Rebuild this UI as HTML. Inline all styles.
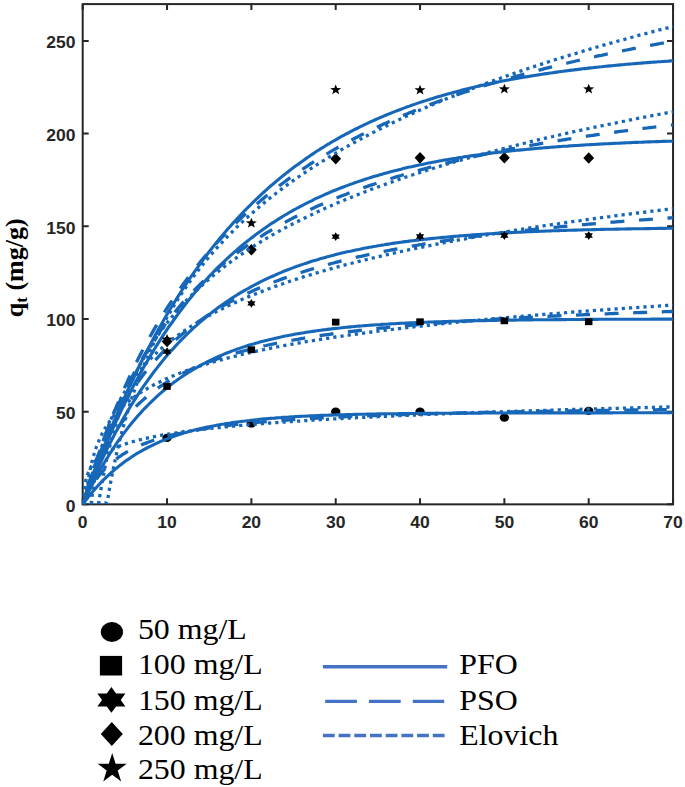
<!DOCTYPE html><html><head><meta charset="utf-8"><style>html,body{margin:0;padding:0;background:#fff;overflow:hidden}svg{display:block}.ts{font-family:"Liberation Sans",sans-serif;font-weight:bold}.tb{font-family:"Liberation Serif",serif;font-weight:bold}.tr{font-family:"Liberation Serif",serif}</style></head><body><svg width="685" height="787" viewBox="0 0 685 787">
<rect width="685" height="787" fill="#fff"/>
<defs><clipPath id="cp"><rect x="82.7" y="4.1" width="592.1499999999999" height="500.25"/></clipPath></defs>
<rect x="82.7" y="4.1" width="590.35" height="500.25" fill="none" stroke="#262626" stroke-width="2"/>
<path d="M82.7,504.35 h6 M673.05,504.35 h-6" stroke="#262626" stroke-width="2"/>
<path d="M82.7,411.66 h6 M673.05,411.66 h-6" stroke="#262626" stroke-width="2"/>
<path d="M82.7,318.97 h6 M673.05,318.97 h-6" stroke="#262626" stroke-width="2"/>
<path d="M82.7,226.28 h6 M673.05,226.28 h-6" stroke="#262626" stroke-width="2"/>
<path d="M82.7,133.59 h6 M673.05,133.59 h-6" stroke="#262626" stroke-width="2"/>
<path d="M82.7,40.90 h6 M673.05,40.90 h-6" stroke="#262626" stroke-width="2"/>
<path d="M82.70,504.35 v-6 M82.70,4.1 v6" stroke="#262626" stroke-width="2"/>
<path d="M167.04,504.35 v-6 M167.04,4.1 v6" stroke="#262626" stroke-width="2"/>
<path d="M251.37,504.35 v-6 M251.37,4.1 v6" stroke="#262626" stroke-width="2"/>
<path d="M335.71,504.35 v-6 M335.71,4.1 v6" stroke="#262626" stroke-width="2"/>
<path d="M420.04,504.35 v-6 M420.04,4.1 v6" stroke="#262626" stroke-width="2"/>
<path d="M504.38,504.35 v-6 M504.38,4.1 v6" stroke="#262626" stroke-width="2"/>
<path d="M588.71,504.35 v-6 M588.71,4.1 v6" stroke="#262626" stroke-width="2"/>
<path d="M673.05,504.35 v-6 M673.05,4.1 v6" stroke="#262626" stroke-width="2"/>
<g clip-path="url(#cp)">
<ellipse cx="167.04" cy="437.80" rx="4.7" ry="4.1" fill="#000"/>
<ellipse cx="251.37" cy="423.52" rx="4.7" ry="4.1" fill="#000"/>
<ellipse cx="335.71" cy="411.66" rx="4.7" ry="4.1" fill="#000"/>
<ellipse cx="420.04" cy="411.66" rx="4.7" ry="4.1" fill="#000"/>
<ellipse cx="504.38" cy="417.59" rx="4.7" ry="4.1" fill="#000"/>
<ellipse cx="588.71" cy="410.92" rx="4.7" ry="4.1" fill="#000"/>
<path d="M82.7,504.4 L83.5,503.2 L84.4,502.1 L85.2,501.0 L86.1,499.9 L86.9,498.8 L87.8,497.7 L88.6,496.6 L89.4,495.6 L90.3,494.6 L91.1,493.5 L92.0,492.5 L92.8,491.5 L93.7,490.5 L94.5,489.6 L95.4,488.6 L96.2,487.7 L97.0,486.7 L97.9,485.8 L98.7,484.9 L99.6,484.0 L100.4,483.1 L101.3,482.2 L102.1,481.4 L102.9,480.5 L103.8,479.7 L104.6,478.8 L105.5,478.0 L106.3,477.2 L107.2,476.4 L108.0,475.6 L108.8,474.8 L109.7,474.0 L110.5,473.3 L111.4,472.5 L112.2,471.8 L113.1,471.0 L113.9,470.3 L114.7,469.6 L115.6,468.9 L116.4,468.2 L117.3,467.5 L118.1,466.8 L119.0,466.1 L119.8,465.5 L120.7,464.8 L121.5,464.2 L122.3,463.5 L123.2,462.9 L124.0,462.3 L124.9,461.6 L127.0,460.1 L129.1,458.7 L131.2,457.2 L133.3,455.9 L135.4,454.5 L137.5,453.2 L139.6,452.0 L141.7,450.8 L143.8,449.6 L146.0,448.5 L148.1,447.4 L150.2,446.3 L152.3,445.3 L154.4,444.3 L156.5,443.3 L158.6,442.3 L160.7,441.4 L162.8,440.5 L164.9,439.7 L167.0,438.9 L169.1,438.0 L171.3,437.3 L173.4,436.5 L175.5,435.8 L177.6,435.1 L179.7,434.4 L181.8,433.7 L183.9,433.1 L186.0,432.4 L188.1,431.8 L190.2,431.2 L192.3,430.7 L194.4,430.1 L196.6,429.6 L198.7,429.1 L200.8,428.6 L202.9,428.1 L205.0,427.6 L207.1,427.1 L209.2,426.7 L211.3,426.3 L213.4,425.9 L215.5,425.5 L217.6,425.1 L219.7,424.7 L221.9,424.3 L224.0,424.0 L226.1,423.6 L228.2,423.3 L230.3,423.0 L232.4,422.6 L234.5,422.3 L236.6,422.0 L238.7,421.8 L240.8,421.5 L242.9,421.2 L245.0,421.0 L247.2,420.7 L249.3,420.5 L251.4,420.2 L253.5,420.0 L255.6,419.8 L257.7,419.6 L259.8,419.3 L261.9,419.1 L264.0,418.9 L266.1,418.8 L268.2,418.6 L270.3,418.4 L272.5,418.2 L274.6,418.1 L276.7,417.9 L278.8,417.7 L280.9,417.6 L283.0,417.4 L285.1,417.3 L287.2,417.2 L289.3,417.0 L291.4,416.9 L293.5,416.8 L295.6,416.6 L297.8,416.5 L299.9,416.4 L302.0,416.3 L304.1,416.2 L306.2,416.1 L308.3,416.0 L310.4,415.9 L312.5,415.8 L314.6,415.7 L316.7,415.6 L318.8,415.5 L320.9,415.4 L323.1,415.4 L325.2,415.3 L327.3,415.2 L329.4,415.1 L331.5,415.1 L333.6,415.0 L335.7,414.9 L337.8,414.9 L339.9,414.8 L342.0,414.7 L344.1,414.7 L346.2,414.6 L348.4,414.6 L350.5,414.5 L352.6,414.5 L354.7,414.4 L356.8,414.4 L358.9,414.3 L361.0,414.3 L363.1,414.2 L365.2,414.2 L367.3,414.1 L369.4,414.1 L371.5,414.1 L373.7,414.0 L375.8,414.0 L377.9,413.9 L380.0,413.9 L382.1,413.9 L384.2,413.8 L386.3,413.8 L388.4,413.8 L390.5,413.7 L392.6,413.7 L394.7,413.7 L396.9,413.7 L399.0,413.6 L401.1,413.6 L403.2,413.6 L405.3,413.6 L407.4,413.5 L409.5,413.5 L411.6,413.5 L413.7,413.5 L415.8,413.5 L417.9,413.4 L420.0,413.4 L422.2,413.4 L424.3,413.4 L426.4,413.4 L428.5,413.3 L430.6,413.3 L432.7,413.3 L434.8,413.3 L436.9,413.3 L439.0,413.3 L441.1,413.3 L443.2,413.2 L445.3,413.2 L447.5,413.2 L449.6,413.2 L451.7,413.2 L453.8,413.2 L455.9,413.2 L458.0,413.2 L460.1,413.1 L462.2,413.1 L464.3,413.1 L466.4,413.1 L468.5,413.1 L470.6,413.1 L472.8,413.1 L474.9,413.1 L477.0,413.1 L479.1,413.1 L481.2,413.1 L483.3,413.0 L485.4,413.0 L487.5,413.0 L489.6,413.0 L491.7,413.0 L493.8,413.0 L495.9,413.0 L498.1,413.0 L500.2,413.0 L502.3,413.0 L504.4,413.0 L506.5,413.0 L508.6,413.0 L510.7,413.0 L512.8,413.0 L514.9,413.0 L517.0,413.0 L519.1,413.0 L521.2,412.9 L523.4,412.9 L525.5,412.9 L527.6,412.9 L529.7,412.9 L531.8,412.9 L533.9,412.9 L536.0,412.9 L538.1,412.9 L540.2,412.9 L542.3,412.9 L544.4,412.9 L546.5,412.9 L548.7,412.9 L550.8,412.9 L552.9,412.9 L555.0,412.9 L557.1,412.9 L559.2,412.9 L561.3,412.9 L563.4,412.9 L565.5,412.9 L567.6,412.9 L569.7,412.9 L571.8,412.9 L574.0,412.9 L576.1,412.9 L578.2,412.9 L580.3,412.9 L582.4,412.9 L584.5,412.9 L586.6,412.9 L588.7,412.9 L590.8,412.9 L592.9,412.9 L595.0,412.9 L597.1,412.9 L599.3,412.9 L601.4,412.9 L603.5,412.9 L605.6,412.9 L607.7,412.9 L609.8,412.9 L611.9,412.9 L614.0,412.8 L616.1,412.8 L618.2,412.8 L620.3,412.8 L622.4,412.8 L624.6,412.8 L626.7,412.8 L628.8,412.8 L630.9,412.8 L633.0,412.8 L635.1,412.8 L637.2,412.8 L639.3,412.8 L641.4,412.8 L643.5,412.8 L645.6,412.8 L647.7,412.8 L649.9,412.8 L652.0,412.8 L654.1,412.8 L656.2,412.8 L658.3,412.8 L660.4,412.8 L662.5,412.8 L664.6,412.8 L666.7,412.8 L668.8,412.8 L670.9,412.8 L673.0,412.8" fill="none" stroke="#1767b9" stroke-width="3.1"/>
<path d="M82.7,504.4 L83.5,502.3 L84.4,500.4 L85.2,498.5 L86.1,496.7 L86.9,495.0 L87.8,493.3 L88.6,491.7 L89.4,490.1 L90.3,488.6 L91.1,487.2 L92.0,485.8 L92.8,484.4 L93.7,483.1 L94.5,481.8 L95.4,480.6 L96.2,479.4 L97.0,478.3 L97.9,477.1 L98.7,476.0 L99.6,475.0 L100.4,474.0 L101.3,473.0 L102.1,472.0 L102.9,471.0 L103.8,470.1 L104.6,469.2 L105.5,468.4 L106.3,467.5 L107.2,466.7 L108.0,465.9 L108.8,465.1 L109.7,464.3 L110.5,463.6 L111.4,462.8 L112.2,462.1 L113.1,461.4 L113.9,460.8 L114.7,460.1 L115.6,459.4 L116.4,458.8 L117.3,458.2 L118.1,457.6 L119.0,457.0 L119.8,456.4 L120.7,455.8 L121.5,455.3 L122.3,454.7 L123.2,454.2 L124.0,453.7 L124.9,453.2 L127.0,451.9 L129.1,450.8 L131.2,449.6 L133.3,448.6 L135.4,447.5 L137.5,446.6 L139.6,445.6 L141.7,444.7 L143.8,443.9 L146.0,443.1 L148.1,442.3 L150.2,441.5 L152.3,440.8 L154.4,440.1 L156.5,439.4 L158.6,438.7 L160.7,438.1 L162.8,437.5 L164.9,436.9 L167.0,436.3 L169.1,435.8 L171.3,435.2 L173.4,434.7 L175.5,434.2 L177.6,433.7 L179.7,433.3 L181.8,432.8 L183.9,432.4 L186.0,431.9 L188.1,431.5 L190.2,431.1 L192.3,430.7 L194.4,430.3 L196.6,430.0 L198.7,429.6 L200.8,429.3 L202.9,428.9 L205.0,428.6 L207.1,428.3 L209.2,427.9 L211.3,427.6 L213.4,427.3 L215.5,427.0 L217.6,426.7 L219.7,426.5 L221.9,426.2 L224.0,425.9 L226.1,425.7 L228.2,425.4 L230.3,425.1 L232.4,424.9 L234.5,424.7 L236.6,424.4 L238.7,424.2 L240.8,424.0 L242.9,423.8 L245.0,423.5 L247.2,423.3 L249.3,423.1 L251.4,422.9 L253.5,422.7 L255.6,422.5 L257.7,422.3 L259.8,422.1 L261.9,422.0 L264.0,421.8 L266.1,421.6 L268.2,421.4 L270.3,421.3 L272.5,421.1 L274.6,420.9 L276.7,420.8 L278.8,420.6 L280.9,420.5 L283.0,420.3 L285.1,420.2 L287.2,420.0 L289.3,419.9 L291.4,419.7 L293.5,419.6 L295.6,419.4 L297.8,419.3 L299.9,419.2 L302.0,419.0 L304.1,418.9 L306.2,418.8 L308.3,418.7 L310.4,418.5 L312.5,418.4 L314.6,418.3 L316.7,418.2 L318.8,418.1 L320.9,417.9 L323.1,417.8 L325.2,417.7 L327.3,417.6 L329.4,417.5 L331.5,417.4 L333.6,417.3 L335.7,417.2 L337.8,417.1 L339.9,417.0 L342.0,416.9 L344.1,416.8 L346.2,416.7 L348.4,416.6 L350.5,416.5 L352.6,416.4 L354.7,416.3 L356.8,416.2 L358.9,416.2 L361.0,416.1 L363.1,416.0 L365.2,415.9 L367.3,415.8 L369.4,415.7 L371.5,415.6 L373.7,415.6 L375.8,415.5 L377.9,415.4 L380.0,415.3 L382.1,415.3 L384.2,415.2 L386.3,415.1 L388.4,415.0 L390.5,415.0 L392.6,414.9 L394.7,414.8 L396.9,414.7 L399.0,414.7 L401.1,414.6 L403.2,414.5 L405.3,414.5 L407.4,414.4 L409.5,414.3 L411.6,414.3 L413.7,414.2 L415.8,414.1 L417.9,414.1 L420.0,414.0 L422.2,414.0 L424.3,413.9 L426.4,413.8 L428.5,413.8 L430.6,413.7 L432.7,413.7 L434.8,413.6 L436.9,413.5 L439.0,413.5 L441.1,413.4 L443.2,413.4 L445.3,413.3 L447.5,413.3 L449.6,413.2 L451.7,413.2 L453.8,413.1 L455.9,413.1 L458.0,413.0 L460.1,413.0 L462.2,412.9 L464.3,412.9 L466.4,412.8 L468.5,412.8 L470.6,412.7 L472.8,412.7 L474.9,412.6 L477.0,412.6 L479.1,412.5 L481.2,412.5 L483.3,412.4 L485.4,412.4 L487.5,412.3 L489.6,412.3 L491.7,412.3 L493.8,412.2 L495.9,412.2 L498.1,412.1 L500.2,412.1 L502.3,412.0 L504.4,412.0 L506.5,412.0 L508.6,411.9 L510.7,411.9 L512.8,411.8 L514.9,411.8 L517.0,411.8 L519.1,411.7 L521.2,411.7 L523.4,411.6 L525.5,411.6 L527.6,411.6 L529.7,411.5 L531.8,411.5 L533.9,411.5 L536.0,411.4 L538.1,411.4 L540.2,411.3 L542.3,411.3 L544.4,411.3 L546.5,411.2 L548.7,411.2 L550.8,411.2 L552.9,411.1 L555.0,411.1 L557.1,411.1 L559.2,411.0 L561.3,411.0 L563.4,411.0 L565.5,410.9 L567.6,410.9 L569.7,410.9 L571.8,410.8 L574.0,410.8 L576.1,410.8 L578.2,410.8 L580.3,410.7 L582.4,410.7 L584.5,410.7 L586.6,410.6 L588.7,410.6 L590.8,410.6 L592.9,410.5 L595.0,410.5 L597.1,410.5 L599.3,410.5 L601.4,410.4 L603.5,410.4 L605.6,410.4 L607.7,410.3 L609.8,410.3 L611.9,410.3 L614.0,410.3 L616.1,410.2 L618.2,410.2 L620.3,410.2 L622.4,410.2 L624.6,410.1 L626.7,410.1 L628.8,410.1 L630.9,410.1 L633.0,410.0 L635.1,410.0 L637.2,410.0 L639.3,410.0 L641.4,409.9 L643.5,409.9 L645.6,409.9 L647.7,409.9 L649.9,409.8 L652.0,409.8 L654.1,409.8 L656.2,409.8 L658.3,409.7 L660.4,409.7 L662.5,409.7 L664.6,409.7 L666.7,409.6 L668.8,409.6 L670.9,409.6 L673.0,409.6" fill="none" stroke="#1767b9" stroke-width="3.3" stroke-dasharray="14 14.6" stroke-dashoffset="0.00"/>
<path d="M82.7,502.9 L82.7,502.9 L82.7,502.9 L82.7,502.9 L82.7,502.9 L82.7,502.9 L82.7,502.9 L82.7,502.9 L82.7,502.9 L82.7,502.9 L82.7,502.9 L82.7,502.9 L82.7,502.9 L82.7,502.9 L82.7,502.9 L82.7,502.9 L82.7,502.9 L82.7,502.9 L82.7,502.9 L82.7,502.9 L82.7,502.9 L82.7,502.9 L82.7,502.9 L82.7,502.9 L82.7,502.9 L82.7,502.9 L82.7,502.9 L82.7,502.9 L82.7,502.9 L82.7,502.9 L82.7,502.9 L82.7,502.9 L82.7,502.9 L82.7,502.9 L82.7,502.9 L82.7,502.9 L82.7,502.9 L82.7,502.9 L82.7,502.9 L82.7,502.9 L82.7,502.9 L82.7,502.9 L82.7,502.9 L82.7,502.9 L82.7,502.9 L82.7,502.9 L82.7,502.9 L82.7,502.9 L82.7,502.9 L82.7,502.9 L82.7,502.9 L82.7,502.9 L82.7,502.9 L82.7,502.9 L82.7,502.9 L82.7,502.9 L82.7,502.9 L82.7,502.9 L82.7,502.9 L82.7,502.9 L82.7,502.9 L82.7,502.9 L82.7,502.9 L82.8,502.9 L82.8,502.9 L82.8,502.9 L82.8,502.9 L82.8,502.9 L82.8,502.9 L82.8,502.9 L82.8,502.9 L82.8,502.9 L82.8,502.9 L82.8,502.9 L82.8,502.9 L82.8,502.9 L82.8,502.9 L82.8,502.9 L82.8,502.9 L82.8,502.9 L82.8,502.9 L82.8,502.9 L82.8,502.9 L82.8,502.9 L82.8,502.9 L82.8,502.9 L82.8,502.9 L82.8,502.9 L82.8,502.9 L82.8,502.9 L82.8,502.9 L82.8,502.9 L82.8,502.9 L82.8,502.9 L82.8,502.9 L82.8,502.9 L82.8,502.9 L82.8,502.9 L82.8,502.9 L82.8,502.9 L82.8,502.9 L82.8,502.9 L82.9,502.9 L82.9,502.9 L82.9,502.9 L82.9,502.9 L82.9,502.9 L82.9,502.9 L82.9,502.9 L82.9,502.9 L82.9,502.9 L82.9,502.9 L82.9,502.9 L82.9,502.9 L82.9,502.9 L82.9,502.9 L82.9,502.9 L82.9,502.9 L82.9,502.9 L83.0,502.9 L83.0,502.9 L83.0,502.9 L83.0,502.9 L83.0,502.9 L83.0,502.9 L83.0,502.9 L83.0,502.9 L83.0,502.9 L83.0,502.9 L83.0,502.9 L83.0,502.9 L83.1,502.9 L83.1,502.9 L83.1,502.9 L83.1,502.9 L83.1,502.9 L83.1,502.9 L83.1,502.9 L83.1,502.9 L83.1,502.9 L83.2,502.9 L83.2,502.9 L83.2,502.9 L83.2,502.9 L83.2,502.9 L83.2,502.9 L83.2,502.9 L83.3,502.9 L83.3,502.9 L83.3,502.9 L83.3,502.9 L83.3,502.9 L83.3,502.9 L83.4,502.6 L83.4,502.2 L83.4,501.8 L83.4,501.4 L83.4,501.0 L83.5,500.6 L83.5,500.2 L83.5,499.8 L83.5,499.4 L83.6,499.0 L83.6,498.6 L83.6,498.2 L83.6,497.8 L83.7,497.4 L83.7,497.0 L83.7,496.6 L83.7,496.2 L83.8,495.8 L83.8,495.4 L83.8,495.0 L83.9,494.6 L83.9,494.2 L83.9,493.8 L84.0,493.4 L84.0,493.0 L84.0,492.6 L84.1,492.2 L84.1,491.8 L84.2,491.4 L84.2,491.0 L84.2,490.6 L84.3,490.2 L84.3,489.8 L84.4,489.4 L84.4,489.0 L84.5,488.6 L84.5,488.2 L84.6,487.8 L84.6,487.4 L84.7,487.0 L84.8,486.6 L84.8,486.2 L84.9,485.8 L84.9,485.4 L85.0,485.0 L85.1,484.6 L85.1,484.2 L85.2,483.8 L85.3,483.4 L85.4,483.0 L85.4,482.6 L85.5,482.2 L85.6,481.8 L85.7,481.4 L85.8,481.0 L85.9,480.6 L85.9,480.2 L86.0,479.8 L86.1,479.4 L86.2,479.0 L86.3,478.6 L86.4,478.2 L86.6,477.8 L86.7,477.4 L86.8,477.0 L86.9,476.6 L87.0,476.2 L87.1,475.8 L87.3,475.4 L87.4,475.0 L87.5,474.6 L87.7,474.2 L87.8,473.8 L88.0,473.4 L88.1,473.0 L88.3,472.5 L88.4,472.1 L88.6,471.7 L88.8,471.3 L89.0,470.9 L89.1,470.5 L89.3,470.1 L89.5,469.7 L89.7,469.3 L89.9,468.9 L90.1,468.5 L90.3,468.1 L90.6,467.7 L90.8,467.3 L91.0,466.9 L91.3,466.5 L91.5,466.1 L91.8,465.7 L92.0,465.3 L92.3,464.9 L92.6,464.5 L92.8,464.1 L93.1,463.7 L93.4,463.3 L93.8,462.9 L94.1,462.5 L94.4,462.1 L94.7,461.7 L95.1,461.3 L95.4,460.9 L95.8,460.5 L96.2,460.1 L96.6,459.7 L97.0,459.3 L97.4,458.9 L97.8,458.5 L98.3,458.1 L98.7,457.7 L99.2,457.3 L99.6,456.9 L100.1,456.5 L100.6,456.1 L101.2,455.7 L101.7,455.3 L102.2,454.9 L102.8,454.5 L103.4,454.1 L104.0,453.7 L104.6,453.3 L105.2,452.9 L105.9,452.5 L106.6,452.1 L107.2,451.7 L108.0,451.3 L108.7,450.9 L109.4,450.5 L110.2,450.1 L111.0,449.7 L111.8,449.3 L112.7,448.9 L113.5,448.5 L114.4,448.1 L115.3,447.7 L116.3,447.3 L117.2,446.9 L118.2,446.5 L119.3,446.1 L120.3,445.7 L121.4,445.3 L122.5,444.9 L123.7,444.5 L124.9,444.1 L127.0,443.4 L129.1,442.7 L131.2,442.1 L133.3,441.5 L135.4,440.9 L137.5,440.4 L139.6,439.8 L141.7,439.3 L143.8,438.8 L146.0,438.4 L148.1,437.9 L150.2,437.4 L152.3,437.0 L154.4,436.6 L156.5,436.2 L158.6,435.8 L160.7,435.4 L162.8,435.0 L164.9,434.7 L167.0,434.3 L169.1,434.0 L171.3,433.6 L173.4,433.3 L175.5,433.0 L177.6,432.6 L179.7,432.3 L181.8,432.0 L183.9,431.7 L186.0,431.4 L188.1,431.2 L190.2,430.9 L192.3,430.6 L194.4,430.3 L196.6,430.1 L198.7,429.8 L200.8,429.6 L202.9,429.3 L205.0,429.1 L207.1,428.8 L209.2,428.6 L211.3,428.4 L213.4,428.1 L215.5,427.9 L217.6,427.7 L219.7,427.5 L221.9,427.2 L224.0,427.0 L226.1,426.8 L228.2,426.6 L230.3,426.4 L232.4,426.2 L234.5,426.0 L236.6,425.8 L238.7,425.6 L240.8,425.4 L242.9,425.3 L245.0,425.1 L247.2,424.9 L249.3,424.7 L251.4,424.5 L253.5,424.4 L255.6,424.2 L257.7,424.0 L259.8,423.9 L261.9,423.7 L264.0,423.5 L266.1,423.4 L268.2,423.2 L270.3,423.0 L272.5,422.9 L274.6,422.7 L276.7,422.6 L278.8,422.4 L280.9,422.3 L283.0,422.1 L285.1,422.0 L287.2,421.8 L289.3,421.7 L291.4,421.5 L293.5,421.4 L295.6,421.3 L297.8,421.1 L299.9,421.0 L302.0,420.8 L304.1,420.7 L306.2,420.6 L308.3,420.4 L310.4,420.3 L312.5,420.2 L314.6,420.1 L316.7,419.9 L318.8,419.8 L320.9,419.7 L323.1,419.6 L325.2,419.4 L327.3,419.3 L329.4,419.2 L331.5,419.1 L333.6,418.9 L335.7,418.8 L337.8,418.7 L339.9,418.6 L342.0,418.5 L344.1,418.4 L346.2,418.3 L348.4,418.1 L350.5,418.0 L352.6,417.9 L354.7,417.8 L356.8,417.7 L358.9,417.6 L361.0,417.5 L363.1,417.4 L365.2,417.3 L367.3,417.2 L369.4,417.1 L371.5,417.0 L373.7,416.9 L375.8,416.8 L377.9,416.7 L380.0,416.6 L382.1,416.5 L384.2,416.4 L386.3,416.3 L388.4,416.2 L390.5,416.1 L392.6,416.0 L394.7,415.9 L396.9,415.8 L399.0,415.7 L401.1,415.6 L403.2,415.5 L405.3,415.4 L407.4,415.3 L409.5,415.2 L411.6,415.1 L413.7,415.0 L415.8,415.0 L417.9,414.9 L420.0,414.8 L422.2,414.7 L424.3,414.6 L426.4,414.5 L428.5,414.4 L430.6,414.3 L432.7,414.3 L434.8,414.2 L436.9,414.1 L439.0,414.0 L441.1,413.9 L443.2,413.8 L445.3,413.8 L447.5,413.7 L449.6,413.6 L451.7,413.5 L453.8,413.4 L455.9,413.4 L458.0,413.3 L460.1,413.2 L462.2,413.1 L464.3,413.0 L466.4,413.0 L468.5,412.9 L470.6,412.8 L472.8,412.7 L474.9,412.7 L477.0,412.6 L479.1,412.5 L481.2,412.4 L483.3,412.4 L485.4,412.3 L487.5,412.2 L489.6,412.1 L491.7,412.1 L493.8,412.0 L495.9,411.9 L498.1,411.8 L500.2,411.8 L502.3,411.7 L504.4,411.6 L506.5,411.6 L508.6,411.5 L510.7,411.4 L512.8,411.4 L514.9,411.3 L517.0,411.2 L519.1,411.2 L521.2,411.1 L523.4,411.0 L525.5,410.9 L527.6,410.9 L529.7,410.8 L531.8,410.7 L533.9,410.7 L536.0,410.6 L538.1,410.6 L540.2,410.5 L542.3,410.4 L544.4,410.4 L546.5,410.3 L548.7,410.2 L550.8,410.2 L552.9,410.1 L555.0,410.0 L557.1,410.0 L559.2,409.9 L561.3,409.9 L563.4,409.8 L565.5,409.7 L567.6,409.7 L569.7,409.6 L571.8,409.5 L574.0,409.5 L576.1,409.4 L578.2,409.4 L580.3,409.3 L582.4,409.2 L584.5,409.2 L586.6,409.1 L588.7,409.1 L590.8,409.0 L592.9,409.0 L595.0,408.9 L597.1,408.8 L599.3,408.8 L601.4,408.7 L603.5,408.7 L605.6,408.6 L607.7,408.5 L609.8,408.5 L611.9,408.4 L614.0,408.4 L616.1,408.3 L618.2,408.3 L620.3,408.2 L622.4,408.2 L624.6,408.1 L626.7,408.0 L628.8,408.0 L630.9,407.9 L633.0,407.9 L635.1,407.8 L637.2,407.8 L639.3,407.7 L641.4,407.7 L643.5,407.6 L645.6,407.6 L647.7,407.5 L649.9,407.5 L652.0,407.4 L654.1,407.4 L656.2,407.3 L658.3,407.3 L660.4,407.2 L662.5,407.2 L664.6,407.1 L666.7,407.0 L668.8,407.0 L670.9,406.9 L673.0,406.9" fill="none" stroke="#1767b9" stroke-width="3.3" stroke-dasharray="3.2 4.05"/>
<path d="M82.7,504.4 L83.5,502.5 L84.4,500.7 L85.2,498.9 L86.1,497.1 L86.9,495.4 L87.8,493.6 L88.6,491.9 L89.4,490.2 L90.3,488.5 L91.1,486.9 L92.0,485.2 L92.8,483.6 L93.7,481.9 L94.5,480.3 L95.4,478.7 L96.2,477.2 L97.0,475.6 L97.9,474.1 L98.7,472.5 L99.6,471.0 L100.4,469.5 L101.3,468.0 L102.1,466.6 L102.9,465.1 L103.8,463.7 L104.6,462.2 L105.5,460.8 L106.3,459.4 L107.2,458.0 L108.0,456.7 L108.8,455.3 L109.7,454.0 L110.5,452.6 L111.4,451.3 L112.2,450.0 L113.1,448.7 L113.9,447.4 L114.7,446.2 L115.6,444.9 L116.4,443.7 L117.3,442.4 L118.1,441.2 L119.0,440.0 L119.8,438.8 L120.7,437.6 L121.5,436.5 L122.3,435.3 L123.2,434.2 L124.0,433.0 L124.9,431.9 L127.0,429.1 L129.1,426.4 L131.2,423.8 L133.3,421.3 L135.4,418.7 L137.5,416.3 L139.6,413.9 L141.7,411.6 L143.8,409.3 L146.0,407.1 L148.1,405.0 L150.2,402.9 L152.3,400.8 L154.4,398.8 L156.5,396.8 L158.6,394.9 L160.7,393.1 L162.8,391.3 L164.9,389.5 L167.0,387.8 L169.1,386.1 L171.3,384.4 L173.4,382.8 L175.5,381.3 L177.6,379.7 L179.7,378.3 L181.8,376.8 L183.9,375.4 L186.0,374.0 L188.1,372.7 L190.2,371.3 L192.3,370.1 L194.4,368.8 L196.6,367.6 L198.7,366.4 L200.8,365.2 L202.9,364.1 L205.0,363.0 L207.1,361.9 L209.2,360.9 L211.3,359.8 L213.4,358.8 L215.5,357.9 L217.6,356.9 L219.7,356.0 L221.9,355.1 L224.0,354.2 L226.1,353.3 L228.2,352.5 L230.3,351.7 L232.4,350.9 L234.5,350.1 L236.6,349.3 L238.7,348.6 L240.8,347.9 L242.9,347.1 L245.0,346.5 L247.2,345.8 L249.3,345.1 L251.4,344.5 L253.5,343.9 L255.6,343.2 L257.7,342.7 L259.8,342.1 L261.9,341.5 L264.0,341.0 L266.1,340.4 L268.2,339.9 L270.3,339.4 L272.5,338.9 L274.6,338.4 L276.7,337.9 L278.8,337.4 L280.9,337.0 L283.0,336.5 L285.1,336.1 L287.2,335.7 L289.3,335.3 L291.4,334.9 L293.5,334.5 L295.6,334.1 L297.8,333.7 L299.9,333.4 L302.0,333.0 L304.1,332.7 L306.2,332.3 L308.3,332.0 L310.4,331.7 L312.5,331.4 L314.6,331.1 L316.7,330.8 L318.8,330.5 L320.9,330.2 L323.1,329.9 L325.2,329.7 L327.3,329.4 L329.4,329.1 L331.5,328.9 L333.6,328.6 L335.7,328.4 L337.8,328.2 L339.9,328.0 L342.0,327.7 L344.1,327.5 L346.2,327.3 L348.4,327.1 L350.5,326.9 L352.6,326.7 L354.7,326.5 L356.8,326.3 L358.9,326.1 L361.0,326.0 L363.1,325.8 L365.2,325.6 L367.3,325.5 L369.4,325.3 L371.5,325.1 L373.7,325.0 L375.8,324.8 L377.9,324.7 L380.0,324.6 L382.1,324.4 L384.2,324.3 L386.3,324.2 L388.4,324.0 L390.5,323.9 L392.6,323.8 L394.7,323.7 L396.9,323.5 L399.0,323.4 L401.1,323.3 L403.2,323.2 L405.3,323.1 L407.4,323.0 L409.5,322.9 L411.6,322.8 L413.7,322.7 L415.8,322.6 L417.9,322.5 L420.0,322.4 L422.2,322.4 L424.3,322.3 L426.4,322.2 L428.5,322.1 L430.6,322.0 L432.7,322.0 L434.8,321.9 L436.9,321.8 L439.0,321.7 L441.1,321.7 L443.2,321.6 L445.3,321.5 L447.5,321.5 L449.6,321.4 L451.7,321.3 L453.8,321.3 L455.9,321.2 L458.0,321.2 L460.1,321.1 L462.2,321.1 L464.3,321.0 L466.4,321.0 L468.5,320.9 L470.6,320.9 L472.8,320.8 L474.9,320.8 L477.0,320.7 L479.1,320.7 L481.2,320.6 L483.3,320.6 L485.4,320.6 L487.5,320.5 L489.6,320.5 L491.7,320.4 L493.8,320.4 L495.9,320.4 L498.1,320.3 L500.2,320.3 L502.3,320.3 L504.4,320.2 L506.5,320.2 L508.6,320.2 L510.7,320.1 L512.8,320.1 L514.9,320.1 L517.0,320.0 L519.1,320.0 L521.2,320.0 L523.4,320.0 L525.5,319.9 L527.6,319.9 L529.7,319.9 L531.8,319.9 L533.9,319.8 L536.0,319.8 L538.1,319.8 L540.2,319.8 L542.3,319.8 L544.4,319.7 L546.5,319.7 L548.7,319.7 L550.8,319.7 L552.9,319.7 L555.0,319.6 L557.1,319.6 L559.2,319.6 L561.3,319.6 L563.4,319.6 L565.5,319.6 L567.6,319.5 L569.7,319.5 L571.8,319.5 L574.0,319.5 L576.1,319.5 L578.2,319.5 L580.3,319.5 L582.4,319.4 L584.5,319.4 L586.6,319.4 L588.7,319.4 L590.8,319.4 L592.9,319.4 L595.0,319.4 L597.1,319.4 L599.3,319.3 L601.4,319.3 L603.5,319.3 L605.6,319.3 L607.7,319.3 L609.8,319.3 L611.9,319.3 L614.0,319.3 L616.1,319.3 L618.2,319.3 L620.3,319.3 L622.4,319.2 L624.6,319.2 L626.7,319.2 L628.8,319.2 L630.9,319.2 L633.0,319.2 L635.1,319.2 L637.2,319.2 L639.3,319.2 L641.4,319.2 L643.5,319.2 L645.6,319.2 L647.7,319.2 L649.9,319.2 L652.0,319.1 L654.1,319.1 L656.2,319.1 L658.3,319.1 L660.4,319.1 L662.5,319.1 L664.6,319.1 L666.7,319.1 L668.8,319.1 L670.9,319.1 L673.0,319.1" fill="none" stroke="#1767b9" stroke-width="3.1"/>
<path d="M82.7,504.4 L83.5,501.5 L84.4,498.8 L85.2,496.1 L86.1,493.5 L86.9,491.0 L87.8,488.5 L88.6,486.1 L89.4,483.7 L90.3,481.4 L91.1,479.1 L92.0,476.9 L92.8,474.8 L93.7,472.7 L94.5,470.6 L95.4,468.6 L96.2,466.7 L97.0,464.8 L97.9,462.9 L98.7,461.1 L99.6,459.3 L100.4,457.5 L101.3,455.8 L102.1,454.1 L102.9,452.4 L103.8,450.8 L104.6,449.2 L105.5,447.7 L106.3,446.1 L107.2,444.6 L108.0,443.2 L108.8,441.7 L109.7,440.3 L110.5,438.9 L111.4,437.6 L112.2,436.2 L113.1,434.9 L113.9,433.6 L114.7,432.4 L115.6,431.1 L116.4,429.9 L117.3,428.7 L118.1,427.5 L119.0,426.4 L119.8,425.2 L120.7,424.1 L121.5,423.0 L122.3,421.9 L123.2,420.8 L124.0,419.8 L124.9,418.7 L127.0,416.2 L129.1,413.8 L131.2,411.5 L133.3,409.3 L135.4,407.1 L137.5,405.0 L139.6,403.0 L141.7,401.1 L143.8,399.2 L146.0,397.4 L148.1,395.6 L150.2,394.0 L152.3,392.3 L154.4,390.7 L156.5,389.2 L158.6,387.7 L160.7,386.2 L162.8,384.8 L164.9,383.5 L167.0,382.2 L169.1,380.9 L171.3,379.6 L173.4,378.4 L175.5,377.2 L177.6,376.1 L179.7,374.9 L181.8,373.8 L183.9,372.8 L186.0,371.7 L188.1,370.7 L190.2,369.7 L192.3,368.8 L194.4,367.8 L196.6,366.9 L198.7,366.0 L200.8,365.2 L202.9,364.3 L205.0,363.5 L207.1,362.6 L209.2,361.8 L211.3,361.1 L213.4,360.3 L215.5,359.6 L217.6,358.8 L219.7,358.1 L221.9,357.4 L224.0,356.7 L226.1,356.0 L228.2,355.4 L230.3,354.7 L232.4,354.1 L234.5,353.5 L236.6,352.9 L238.7,352.3 L240.8,351.7 L242.9,351.1 L245.0,350.6 L247.2,350.0 L249.3,349.5 L251.4,348.9 L253.5,348.4 L255.6,347.9 L257.7,347.4 L259.8,346.9 L261.9,346.4 L264.0,345.9 L266.1,345.5 L268.2,345.0 L270.3,344.5 L272.5,344.1 L274.6,343.7 L276.7,343.2 L278.8,342.8 L280.9,342.4 L283.0,342.0 L285.1,341.6 L287.2,341.2 L289.3,340.8 L291.4,340.4 L293.5,340.0 L295.6,339.6 L297.8,339.3 L299.9,338.9 L302.0,338.5 L304.1,338.2 L306.2,337.8 L308.3,337.5 L310.4,337.1 L312.5,336.8 L314.6,336.5 L316.7,336.2 L318.8,335.8 L320.9,335.5 L323.1,335.2 L325.2,334.9 L327.3,334.6 L329.4,334.3 L331.5,334.0 L333.6,333.7 L335.7,333.4 L337.8,333.2 L339.9,332.9 L342.0,332.6 L344.1,332.3 L346.2,332.1 L348.4,331.8 L350.5,331.5 L352.6,331.3 L354.7,331.0 L356.8,330.8 L358.9,330.5 L361.0,330.3 L363.1,330.1 L365.2,329.8 L367.3,329.6 L369.4,329.3 L371.5,329.1 L373.7,328.9 L375.8,328.7 L377.9,328.4 L380.0,328.2 L382.1,328.0 L384.2,327.8 L386.3,327.6 L388.4,327.4 L390.5,327.2 L392.6,327.0 L394.7,326.7 L396.9,326.5 L399.0,326.4 L401.1,326.2 L403.2,326.0 L405.3,325.8 L407.4,325.6 L409.5,325.4 L411.6,325.2 L413.7,325.0 L415.8,324.8 L417.9,324.7 L420.0,324.5 L422.2,324.3 L424.3,324.1 L426.4,324.0 L428.5,323.8 L430.6,323.6 L432.7,323.5 L434.8,323.3 L436.9,323.1 L439.0,323.0 L441.1,322.8 L443.2,322.6 L445.3,322.5 L447.5,322.3 L449.6,322.2 L451.7,322.0 L453.8,321.9 L455.9,321.7 L458.0,321.6 L460.1,321.4 L462.2,321.3 L464.3,321.1 L466.4,321.0 L468.5,320.9 L470.6,320.7 L472.8,320.6 L474.9,320.4 L477.0,320.3 L479.1,320.2 L481.2,320.0 L483.3,319.9 L485.4,319.8 L487.5,319.6 L489.6,319.5 L491.7,319.4 L493.8,319.3 L495.9,319.1 L498.1,319.0 L500.2,318.9 L502.3,318.8 L504.4,318.6 L506.5,318.5 L508.6,318.4 L510.7,318.3 L512.8,318.2 L514.9,318.1 L517.0,317.9 L519.1,317.8 L521.2,317.7 L523.4,317.6 L525.5,317.5 L527.6,317.4 L529.7,317.3 L531.8,317.2 L533.9,317.0 L536.0,316.9 L538.1,316.8 L540.2,316.7 L542.3,316.6 L544.4,316.5 L546.5,316.4 L548.7,316.3 L550.8,316.2 L552.9,316.1 L555.0,316.0 L557.1,315.9 L559.2,315.8 L561.3,315.7 L563.4,315.6 L565.5,315.5 L567.6,315.4 L569.7,315.3 L571.8,315.3 L574.0,315.2 L576.1,315.1 L578.2,315.0 L580.3,314.9 L582.4,314.8 L584.5,314.7 L586.6,314.6 L588.7,314.5 L590.8,314.4 L592.9,314.4 L595.0,314.3 L597.1,314.2 L599.3,314.1 L601.4,314.0 L603.5,313.9 L605.6,313.9 L607.7,313.8 L609.8,313.7 L611.9,313.6 L614.0,313.5 L616.1,313.4 L618.2,313.4 L620.3,313.3 L622.4,313.2 L624.6,313.1 L626.7,313.1 L628.8,313.0 L630.9,312.9 L633.0,312.8 L635.1,312.7 L637.2,312.7 L639.3,312.6 L641.4,312.5 L643.5,312.5 L645.6,312.4 L647.7,312.3 L649.9,312.2 L652.0,312.2 L654.1,312.1 L656.2,312.0 L658.3,312.0 L660.4,311.9 L662.5,311.8 L664.6,311.7 L666.7,311.7 L668.8,311.6 L670.9,311.5 L673.0,311.5" fill="none" stroke="#1767b9" stroke-width="3.3" stroke-dasharray="14 14.6" stroke-dashoffset="-26.81"/>
<path d="M82.7,502.9 L82.7,502.9 L82.7,502.9 L82.7,502.9 L82.7,502.9 L82.7,502.9 L82.7,502.9 L82.7,502.9 L82.7,502.9 L82.7,502.9 L82.7,502.9 L82.7,502.9 L82.7,502.9 L82.7,502.9 L82.7,502.9 L82.7,502.9 L82.7,502.9 L82.7,502.9 L82.7,502.9 L82.7,502.9 L82.7,502.9 L82.7,502.9 L82.7,502.9 L82.7,502.9 L82.7,502.9 L82.7,502.9 L82.7,502.9 L82.7,502.9 L82.7,502.9 L82.7,502.9 L82.7,502.9 L82.7,502.9 L82.7,502.9 L82.7,502.9 L82.7,502.9 L82.7,502.9 L82.7,502.9 L82.7,502.9 L82.7,502.9 L82.7,502.9 L82.7,502.9 L82.7,502.9 L82.7,502.9 L82.7,502.9 L82.7,502.9 L82.7,502.9 L82.7,502.9 L82.7,502.9 L82.7,502.9 L82.7,502.9 L82.7,502.9 L82.7,502.9 L82.7,502.9 L82.7,502.9 L82.7,502.9 L82.7,502.9 L82.7,502.9 L82.7,502.9 L82.7,502.9 L82.7,502.9 L82.7,502.9 L82.7,502.9 L82.7,502.9 L82.8,502.9 L82.8,502.9 L82.8,502.9 L82.8,502.9 L82.8,502.9 L82.8,502.9 L82.8,502.9 L82.8,502.9 L82.8,502.9 L82.8,502.9 L82.8,502.9 L82.8,502.9 L82.8,502.9 L82.8,502.9 L82.8,502.9 L82.8,502.9 L82.8,502.9 L82.8,502.9 L82.8,502.9 L82.8,502.9 L82.8,502.9 L82.8,502.9 L82.8,502.9 L82.8,502.9 L82.8,502.9 L82.8,502.9 L82.8,502.9 L82.8,502.9 L82.8,502.9 L82.8,502.9 L82.8,502.9 L82.8,502.9 L82.8,502.9 L82.8,502.9 L82.8,502.9 L82.8,502.9 L82.8,502.9 L82.8,502.9 L82.8,502.9 L82.9,502.9 L82.9,502.9 L82.9,502.9 L82.9,502.9 L82.9,502.9 L82.9,502.9 L82.9,502.9 L82.9,502.9 L82.9,502.9 L82.9,502.9 L82.9,502.9 L82.9,502.9 L82.9,502.9 L82.9,502.9 L82.9,502.9 L82.9,502.9 L82.9,502.9 L83.0,502.9 L83.0,502.9 L83.0,502.9 L83.0,502.9 L83.0,502.9 L83.0,502.9 L83.0,502.9 L83.0,502.9 L83.0,502.9 L83.0,502.9 L83.0,502.9 L83.0,502.9 L83.1,502.9 L83.1,502.9 L83.1,502.9 L83.1,502.9 L83.1,502.9 L83.1,502.9 L83.1,502.9 L83.1,502.9 L83.1,502.9 L83.2,502.9 L83.2,502.9 L83.2,502.9 L83.2,502.9 L83.2,502.9 L83.2,502.9 L83.2,502.9 L83.3,502.9 L83.3,502.9 L83.3,502.9 L83.3,502.9 L83.3,502.9 L83.3,502.9 L83.4,502.9 L83.4,502.9 L83.4,502.9 L83.4,502.9 L83.4,502.9 L83.5,502.9 L83.5,502.9 L83.5,502.9 L83.5,502.9 L83.6,502.9 L83.6,502.9 L83.6,502.9 L83.6,502.9 L83.7,502.9 L83.7,502.9 L83.7,502.9 L83.7,502.9 L83.8,502.9 L83.8,502.9 L83.8,502.9 L83.9,502.9 L83.9,502.9 L83.9,502.9 L84.0,502.9 L84.0,502.9 L84.0,502.9 L84.1,502.9 L84.1,502.9 L84.2,502.9 L84.2,502.9 L84.2,502.9 L84.3,502.9 L84.3,502.9 L84.4,502.9 L84.4,502.9 L84.5,502.9 L84.5,502.9 L84.6,502.9 L84.6,502.9 L84.7,502.9 L84.8,502.9 L84.8,502.9 L84.9,502.9 L84.9,502.9 L85.0,502.9 L85.1,502.9 L85.1,502.9 L85.2,502.9 L85.3,502.9 L85.4,502.9 L85.4,502.9 L85.5,502.9 L85.6,502.9 L85.7,502.9 L85.8,502.9 L85.9,502.2 L85.9,501.1 L86.0,500.0 L86.1,499.0 L86.2,497.9 L86.3,496.8 L86.4,495.7 L86.6,494.7 L86.7,493.6 L86.8,492.5 L86.9,491.5 L87.0,490.4 L87.1,489.3 L87.3,488.2 L87.4,487.2 L87.5,486.1 L87.7,485.0 L87.8,483.9 L88.0,482.9 L88.1,481.8 L88.3,480.7 L88.4,479.6 L88.6,478.6 L88.8,477.5 L89.0,476.4 L89.1,475.4 L89.3,474.3 L89.5,473.2 L89.7,472.1 L89.9,471.1 L90.1,470.0 L90.3,468.9 L90.6,467.8 L90.8,466.8 L91.0,465.7 L91.3,464.6 L91.5,463.6 L91.8,462.5 L92.0,461.4 L92.3,460.3 L92.6,459.3 L92.8,458.2 L93.1,457.1 L93.4,456.0 L93.8,455.0 L94.1,453.9 L94.4,452.8 L94.7,451.7 L95.1,450.7 L95.4,449.6 L95.8,448.5 L96.2,447.5 L96.6,446.4 L97.0,445.3 L97.4,444.2 L97.8,443.2 L98.3,442.1 L98.7,441.0 L99.2,439.9 L99.6,438.9 L100.1,437.8 L100.6,436.7 L101.2,435.7 L101.7,434.6 L102.2,433.5 L102.8,432.4 L103.4,431.4 L104.0,430.3 L104.6,429.2 L105.2,428.1 L105.9,427.1 L106.6,426.0 L107.2,424.9 L108.0,423.8 L108.7,422.8 L109.4,421.7 L110.2,420.6 L111.0,419.6 L111.8,418.5 L112.7,417.4 L113.5,416.3 L114.4,415.3 L115.3,414.2 L116.3,413.1 L117.2,412.0 L118.2,411.0 L119.3,409.9 L120.3,408.8 L121.4,407.7 L122.5,406.7 L123.7,405.6 L124.9,404.5 L127.0,402.7 L129.1,400.9 L131.2,399.3 L133.3,397.7 L135.4,396.1 L137.5,394.6 L139.6,393.2 L141.7,391.9 L143.8,390.5 L146.0,389.3 L148.1,388.0 L150.2,386.8 L152.3,385.7 L154.4,384.5 L156.5,383.4 L158.6,382.4 L160.7,381.4 L162.8,380.3 L164.9,379.4 L167.0,378.4 L169.1,377.5 L171.3,376.6 L173.4,375.7 L175.5,374.8 L177.6,374.0 L179.7,373.2 L181.8,372.3 L183.9,371.5 L186.0,370.8 L188.1,370.0 L190.2,369.3 L192.3,368.5 L194.4,367.8 L196.6,367.1 L198.7,366.4 L200.8,365.7 L202.9,365.1 L205.0,364.4 L207.1,363.8 L209.2,363.1 L211.3,362.5 L213.4,361.9 L215.5,361.3 L217.6,360.7 L219.7,360.1 L221.9,359.6 L224.0,359.0 L226.1,358.4 L228.2,357.9 L230.3,357.3 L232.4,356.8 L234.5,356.3 L236.6,355.8 L238.7,355.2 L240.8,354.7 L242.9,354.2 L245.0,353.7 L247.2,353.3 L249.3,352.8 L251.4,352.3 L253.5,351.8 L255.6,351.4 L257.7,350.9 L259.8,350.5 L261.9,350.0 L264.0,349.6 L266.1,349.1 L268.2,348.7 L270.3,348.3 L272.5,347.9 L274.6,347.4 L276.7,347.0 L278.8,346.6 L280.9,346.2 L283.0,345.8 L285.1,345.4 L287.2,345.0 L289.3,344.7 L291.4,344.3 L293.5,343.9 L295.6,343.5 L297.8,343.2 L299.9,342.8 L302.0,342.4 L304.1,342.1 L306.2,341.7 L308.3,341.3 L310.4,341.0 L312.5,340.7 L314.6,340.3 L316.7,340.0 L318.8,339.6 L320.9,339.3 L323.1,339.0 L325.2,338.6 L327.3,338.3 L329.4,338.0 L331.5,337.7 L333.6,337.3 L335.7,337.0 L337.8,336.7 L339.9,336.4 L342.0,336.1 L344.1,335.8 L346.2,335.5 L348.4,335.2 L350.5,334.9 L352.6,334.6 L354.7,334.3 L356.8,334.0 L358.9,333.7 L361.0,333.4 L363.1,333.2 L365.2,332.9 L367.3,332.6 L369.4,332.3 L371.5,332.0 L373.7,331.8 L375.8,331.5 L377.9,331.2 L380.0,331.0 L382.1,330.7 L384.2,330.4 L386.3,330.2 L388.4,329.9 L390.5,329.6 L392.6,329.4 L394.7,329.1 L396.9,328.9 L399.0,328.6 L401.1,328.4 L403.2,328.1 L405.3,327.9 L407.4,327.6 L409.5,327.4 L411.6,327.1 L413.7,326.9 L415.8,326.7 L417.9,326.4 L420.0,326.2 L422.2,326.0 L424.3,325.7 L426.4,325.5 L428.5,325.3 L430.6,325.0 L432.7,324.8 L434.8,324.6 L436.9,324.4 L439.0,324.1 L441.1,323.9 L443.2,323.7 L445.3,323.5 L447.5,323.2 L449.6,323.0 L451.7,322.8 L453.8,322.6 L455.9,322.4 L458.0,322.2 L460.1,322.0 L462.2,321.8 L464.3,321.5 L466.4,321.3 L468.5,321.1 L470.6,320.9 L472.8,320.7 L474.9,320.5 L477.0,320.3 L479.1,320.1 L481.2,319.9 L483.3,319.7 L485.4,319.5 L487.5,319.3 L489.6,319.1 L491.7,318.9 L493.8,318.7 L495.9,318.5 L498.1,318.4 L500.2,318.2 L502.3,318.0 L504.4,317.8 L506.5,317.6 L508.6,317.4 L510.7,317.2 L512.8,317.0 L514.9,316.9 L517.0,316.7 L519.1,316.5 L521.2,316.3 L523.4,316.1 L525.5,315.9 L527.6,315.8 L529.7,315.6 L531.8,315.4 L533.9,315.2 L536.0,315.1 L538.1,314.9 L540.2,314.7 L542.3,314.5 L544.4,314.4 L546.5,314.2 L548.7,314.0 L550.8,313.9 L552.9,313.7 L555.0,313.5 L557.1,313.3 L559.2,313.2 L561.3,313.0 L563.4,312.8 L565.5,312.7 L567.6,312.5 L569.7,312.4 L571.8,312.2 L574.0,312.0 L576.1,311.9 L578.2,311.7 L580.3,311.5 L582.4,311.4 L584.5,311.2 L586.6,311.1 L588.7,310.9 L590.8,310.8 L592.9,310.6 L595.0,310.4 L597.1,310.3 L599.3,310.1 L601.4,310.0 L603.5,309.8 L605.6,309.7 L607.7,309.5 L609.8,309.4 L611.9,309.2 L614.0,309.1 L616.1,308.9 L618.2,308.8 L620.3,308.6 L622.4,308.5 L624.6,308.3 L626.7,308.2 L628.8,308.0 L630.9,307.9 L633.0,307.8 L635.1,307.6 L637.2,307.5 L639.3,307.3 L641.4,307.2 L643.5,307.0 L645.6,306.9 L647.7,306.8 L649.9,306.6 L652.0,306.5 L654.1,306.3 L656.2,306.2 L658.3,306.1 L660.4,305.9 L662.5,305.8 L664.6,305.7 L666.7,305.5 L668.8,305.4 L670.9,305.2 L673.0,305.1" fill="none" stroke="#1767b9" stroke-width="3.3" stroke-dasharray="3.2 4.05"/>
<rect x="163.29" y="383.05" width="7.5" height="6.8" fill="#000"/>
<rect x="247.62" y="346.34" width="7.5" height="6.8" fill="#000"/>
<rect x="331.96" y="318.72" width="7.5" height="6.8" fill="#000"/>
<rect x="416.29" y="318.35" width="7.5" height="6.8" fill="#000"/>
<rect x="500.63" y="317.42" width="7.5" height="6.8" fill="#000"/>
<rect x="584.96" y="318.35" width="7.5" height="6.8" fill="#000"/>
<path d="M82.7,504.4 L83.5,502.2 L84.4,500.1 L85.2,498.0 L86.1,496.0 L86.9,493.9 L87.8,491.9 L88.6,489.8 L89.4,487.8 L90.3,485.8 L91.1,483.8 L92.0,481.9 L92.8,479.9 L93.7,478.0 L94.5,476.1 L95.4,474.1 L96.2,472.3 L97.0,470.4 L97.9,468.5 L98.7,466.7 L99.6,464.8 L100.4,463.0 L101.3,461.2 L102.1,459.4 L102.9,457.6 L103.8,455.9 L104.6,454.1 L105.5,452.4 L106.3,450.6 L107.2,448.9 L108.0,447.2 L108.8,445.6 L109.7,443.9 L110.5,442.2 L111.4,440.6 L112.2,438.9 L113.1,437.3 L113.9,435.7 L114.7,434.1 L115.6,432.5 L116.4,430.9 L117.3,429.4 L118.1,427.8 L119.0,426.3 L119.8,424.8 L120.7,423.3 L121.5,421.8 L122.3,420.3 L123.2,418.8 L124.0,417.3 L124.9,415.9 L127.0,412.3 L129.1,408.7 L131.2,405.3 L133.3,401.9 L135.4,398.6 L137.5,395.3 L139.6,392.1 L141.7,388.9 L143.8,385.9 L146.0,382.8 L148.1,379.9 L150.2,377.0 L152.3,374.1 L154.4,371.3 L156.5,368.6 L158.6,365.9 L160.7,363.2 L162.8,360.6 L164.9,358.1 L167.0,355.6 L169.1,353.1 L171.3,350.7 L173.4,348.4 L175.5,346.1 L177.6,343.8 L179.7,341.6 L181.8,339.4 L183.9,337.3 L186.0,335.2 L188.1,333.1 L190.2,331.1 L192.3,329.1 L194.4,327.2 L196.6,325.3 L198.7,323.4 L200.8,321.6 L202.9,319.8 L205.0,318.0 L207.1,316.3 L209.2,314.6 L211.3,312.9 L213.4,311.3 L215.5,309.7 L217.6,308.1 L219.7,306.5 L221.9,305.0 L224.0,303.5 L226.1,302.1 L228.2,300.7 L230.3,299.3 L232.4,297.9 L234.5,296.5 L236.6,295.2 L238.7,293.9 L240.8,292.6 L242.9,291.4 L245.0,290.2 L247.2,289.0 L249.3,287.8 L251.4,286.6 L253.5,285.5 L255.6,284.4 L257.7,283.3 L259.8,282.2 L261.9,281.2 L264.0,280.1 L266.1,279.1 L268.2,278.1 L270.3,277.1 L272.5,276.2 L274.6,275.3 L276.7,274.3 L278.8,273.4 L280.9,272.6 L283.0,271.7 L285.1,270.8 L287.2,270.0 L289.3,269.2 L291.4,268.4 L293.5,267.6 L295.6,266.8 L297.8,266.1 L299.9,265.3 L302.0,264.6 L304.1,263.9 L306.2,263.2 L308.3,262.5 L310.4,261.8 L312.5,261.1 L314.6,260.5 L316.7,259.9 L318.8,259.2 L320.9,258.6 L323.1,258.0 L325.2,257.4 L327.3,256.8 L329.4,256.3 L331.5,255.7 L333.6,255.2 L335.7,254.6 L337.8,254.1 L339.9,253.6 L342.0,253.1 L344.1,252.6 L346.2,252.1 L348.4,251.6 L350.5,251.2 L352.6,250.7 L354.7,250.2 L356.8,249.8 L358.9,249.4 L361.0,248.9 L363.1,248.5 L365.2,248.1 L367.3,247.7 L369.4,247.3 L371.5,246.9 L373.7,246.5 L375.8,246.2 L377.9,245.8 L380.0,245.5 L382.1,245.1 L384.2,244.8 L386.3,244.4 L388.4,244.1 L390.5,243.8 L392.6,243.4 L394.7,243.1 L396.9,242.8 L399.0,242.5 L401.1,242.2 L403.2,241.9 L405.3,241.6 L407.4,241.4 L409.5,241.1 L411.6,240.8 L413.7,240.6 L415.8,240.3 L417.9,240.1 L420.0,239.8 L422.2,239.6 L424.3,239.3 L426.4,239.1 L428.5,238.9 L430.6,238.6 L432.7,238.4 L434.8,238.2 L436.9,238.0 L439.0,237.8 L441.1,237.6 L443.2,237.4 L445.3,237.2 L447.5,237.0 L449.6,236.8 L451.7,236.6 L453.8,236.4 L455.9,236.2 L458.0,236.1 L460.1,235.9 L462.2,235.7 L464.3,235.5 L466.4,235.4 L468.5,235.2 L470.6,235.1 L472.8,234.9 L474.9,234.8 L477.0,234.6 L479.1,234.5 L481.2,234.3 L483.3,234.2 L485.4,234.0 L487.5,233.9 L489.6,233.8 L491.7,233.7 L493.8,233.5 L495.9,233.4 L498.1,233.3 L500.2,233.2 L502.3,233.0 L504.4,232.9 L506.5,232.8 L508.6,232.7 L510.7,232.6 L512.8,232.5 L514.9,232.4 L517.0,232.3 L519.1,232.2 L521.2,232.1 L523.4,232.0 L525.5,231.9 L527.6,231.8 L529.7,231.7 L531.8,231.6 L533.9,231.5 L536.0,231.4 L538.1,231.4 L540.2,231.3 L542.3,231.2 L544.4,231.1 L546.5,231.0 L548.7,231.0 L550.8,230.9 L552.9,230.8 L555.0,230.7 L557.1,230.7 L559.2,230.6 L561.3,230.5 L563.4,230.5 L565.5,230.4 L567.6,230.3 L569.7,230.3 L571.8,230.2 L574.0,230.1 L576.1,230.1 L578.2,230.0 L580.3,230.0 L582.4,229.9 L584.5,229.8 L586.6,229.8 L588.7,229.7 L590.8,229.7 L592.9,229.6 L595.0,229.6 L597.1,229.5 L599.3,229.5 L601.4,229.4 L603.5,229.4 L605.6,229.3 L607.7,229.3 L609.8,229.3 L611.9,229.2 L614.0,229.2 L616.1,229.1 L618.2,229.1 L620.3,229.0 L622.4,229.0 L624.6,229.0 L626.7,228.9 L628.8,228.9 L630.9,228.9 L633.0,228.8 L635.1,228.8 L637.2,228.8 L639.3,228.7 L641.4,228.7 L643.5,228.7 L645.6,228.6 L647.7,228.6 L649.9,228.6 L652.0,228.5 L654.1,228.5 L656.2,228.5 L658.3,228.4 L660.4,228.4 L662.5,228.4 L664.6,228.4 L666.7,228.3 L668.8,228.3 L670.9,228.3 L673.0,228.3" fill="none" stroke="#1767b9" stroke-width="3.1"/>
<path d="M82.7,504.4 L83.5,501.4 L84.4,498.5 L85.2,495.7 L86.1,492.9 L86.9,490.2 L87.8,487.5 L88.6,484.9 L89.4,482.3 L90.3,479.7 L91.1,477.2 L92.0,474.7 L92.8,472.3 L93.7,469.9 L94.5,467.6 L95.4,465.2 L96.2,463.0 L97.0,460.7 L97.9,458.5 L98.7,456.3 L99.6,454.2 L100.4,452.1 L101.3,450.0 L102.1,447.9 L102.9,445.9 L103.8,443.9 L104.6,441.9 L105.5,440.0 L106.3,438.1 L107.2,436.2 L108.0,434.4 L108.8,432.5 L109.7,430.7 L110.5,429.0 L111.4,427.2 L112.2,425.5 L113.1,423.8 L113.9,422.1 L114.7,420.4 L115.6,418.8 L116.4,417.1 L117.3,415.5 L118.1,414.0 L119.0,412.4 L119.8,410.9 L120.7,409.4 L121.5,407.9 L122.3,406.4 L123.2,404.9 L124.0,403.5 L124.9,402.0 L127.0,398.6 L129.1,395.2 L131.2,391.9 L133.3,388.7 L135.4,385.6 L137.5,382.6 L139.6,379.7 L141.7,376.8 L143.8,374.0 L146.0,371.3 L148.1,368.7 L150.2,366.2 L152.3,363.7 L154.4,361.2 L156.5,358.9 L158.6,356.6 L160.7,354.3 L162.8,352.1 L164.9,350.0 L167.0,347.9 L169.1,345.8 L171.3,343.8 L173.4,341.9 L175.5,339.9 L177.6,338.1 L179.7,336.2 L181.8,334.5 L183.9,332.7 L186.0,331.0 L188.1,329.3 L190.2,327.7 L192.3,326.1 L194.4,324.5 L196.6,322.9 L198.7,321.4 L200.8,320.0 L202.9,318.5 L205.0,317.1 L207.1,315.7 L209.2,314.3 L211.3,313.0 L213.4,311.6 L215.5,310.3 L217.6,309.1 L219.7,307.8 L221.9,306.6 L224.0,305.4 L226.1,304.2 L228.2,303.0 L230.3,301.9 L232.4,300.8 L234.5,299.7 L236.6,298.6 L238.7,297.5 L240.8,296.5 L242.9,295.4 L245.0,294.4 L247.2,293.4 L249.3,292.4 L251.4,291.5 L253.5,290.5 L255.6,289.6 L257.7,288.7 L259.8,287.8 L261.9,286.9 L264.0,286.0 L266.1,285.1 L268.2,284.3 L270.3,283.4 L272.5,282.6 L274.6,281.8 L276.7,281.0 L278.8,280.2 L280.9,279.4 L283.0,278.6 L285.1,277.9 L287.2,277.1 L289.3,276.4 L291.4,275.7 L293.5,274.9 L295.6,274.2 L297.8,273.5 L299.9,272.9 L302.0,272.2 L304.1,271.5 L306.2,270.8 L308.3,270.2 L310.4,269.5 L312.5,268.9 L314.6,268.3 L316.7,267.7 L318.8,267.1 L320.9,266.4 L323.1,265.9 L325.2,265.3 L327.3,264.7 L329.4,264.1 L331.5,263.5 L333.6,263.0 L335.7,262.4 L337.8,261.9 L339.9,261.3 L342.0,260.8 L344.1,260.3 L346.2,259.8 L348.4,259.2 L350.5,258.7 L352.6,258.2 L354.7,257.7 L356.8,257.2 L358.9,256.7 L361.0,256.3 L363.1,255.8 L365.2,255.3 L367.3,254.9 L369.4,254.4 L371.5,253.9 L373.7,253.5 L375.8,253.0 L377.9,252.6 L380.0,252.2 L382.1,251.7 L384.2,251.3 L386.3,250.9 L388.4,250.5 L390.5,250.1 L392.6,249.7 L394.7,249.3 L396.9,248.9 L399.0,248.5 L401.1,248.1 L403.2,247.7 L405.3,247.3 L407.4,246.9 L409.5,246.5 L411.6,246.2 L413.7,245.8 L415.8,245.4 L417.9,245.1 L420.0,244.7 L422.2,244.4 L424.3,244.0 L426.4,243.7 L428.5,243.3 L430.6,243.0 L432.7,242.6 L434.8,242.3 L436.9,242.0 L439.0,241.6 L441.1,241.3 L443.2,241.0 L445.3,240.7 L447.5,240.3 L449.6,240.0 L451.7,239.7 L453.8,239.4 L455.9,239.1 L458.0,238.8 L460.1,238.5 L462.2,238.2 L464.3,237.9 L466.4,237.6 L468.5,237.3 L470.6,237.0 L472.8,236.8 L474.9,236.5 L477.0,236.2 L479.1,235.9 L481.2,235.6 L483.3,235.4 L485.4,235.1 L487.5,234.8 L489.6,234.6 L491.7,234.3 L493.8,234.0 L495.9,233.8 L498.1,233.5 L500.2,233.3 L502.3,233.0 L504.4,232.8 L506.5,232.5 L508.6,232.3 L510.7,232.0 L512.8,231.8 L514.9,231.5 L517.0,231.3 L519.1,231.1 L521.2,230.8 L523.4,230.6 L525.5,230.4 L527.6,230.1 L529.7,229.9 L531.8,229.7 L533.9,229.5 L536.0,229.2 L538.1,229.0 L540.2,228.8 L542.3,228.6 L544.4,228.4 L546.5,228.2 L548.7,227.9 L550.8,227.7 L552.9,227.5 L555.0,227.3 L557.1,227.1 L559.2,226.9 L561.3,226.7 L563.4,226.5 L565.5,226.3 L567.6,226.1 L569.7,225.9 L571.8,225.7 L574.0,225.5 L576.1,225.3 L578.2,225.1 L580.3,224.9 L582.4,224.7 L584.5,224.6 L586.6,224.4 L588.7,224.2 L590.8,224.0 L592.9,223.8 L595.0,223.6 L597.1,223.5 L599.3,223.3 L601.4,223.1 L603.5,222.9 L605.6,222.8 L607.7,222.6 L609.8,222.4 L611.9,222.2 L614.0,222.1 L616.1,221.9 L618.2,221.7 L620.3,221.6 L622.4,221.4 L624.6,221.2 L626.7,221.1 L628.8,220.9 L630.9,220.7 L633.0,220.6 L635.1,220.4 L637.2,220.3 L639.3,220.1 L641.4,219.9 L643.5,219.8 L645.6,219.6 L647.7,219.5 L649.9,219.3 L652.0,219.2 L654.1,219.0 L656.2,218.9 L658.3,218.7 L660.4,218.6 L662.5,218.4 L664.6,218.3 L666.7,218.1 L668.8,218.0 L670.9,217.9 L673.0,217.7" fill="none" stroke="#1767b9" stroke-width="3.3" stroke-dasharray="14 14.6" stroke-dashoffset="-20.01"/>
<path d="M82.7,502.9 L82.7,502.9 L82.7,502.9 L82.7,502.9 L82.7,502.9 L82.7,502.9 L82.7,502.9 L82.7,502.9 L82.7,502.9 L82.7,502.9 L82.7,502.9 L82.7,502.9 L82.7,502.9 L82.7,502.9 L82.7,502.9 L82.7,502.9 L82.7,502.9 L82.7,502.9 L82.7,502.9 L82.7,502.9 L82.7,502.9 L82.7,502.9 L82.7,502.9 L82.7,502.9 L82.7,502.9 L82.7,502.9 L82.7,502.9 L82.7,502.9 L82.7,502.9 L82.7,502.9 L82.7,502.9 L82.7,502.9 L82.7,502.9 L82.7,502.9 L82.7,502.9 L82.7,502.9 L82.7,502.9 L82.7,502.9 L82.7,502.9 L82.7,502.9 L82.7,502.9 L82.7,502.9 L82.7,502.9 L82.7,502.9 L82.7,502.9 L82.7,502.9 L82.7,502.9 L82.7,502.9 L82.7,502.9 L82.7,502.9 L82.7,502.9 L82.7,502.9 L82.7,502.9 L82.7,502.9 L82.7,502.9 L82.7,502.9 L82.7,502.9 L82.7,502.9 L82.7,502.9 L82.7,502.9 L82.7,502.9 L82.7,502.9 L82.7,502.9 L82.8,502.9 L82.8,502.9 L82.8,502.9 L82.8,502.9 L82.8,502.9 L82.8,502.9 L82.8,502.9 L82.8,502.9 L82.8,502.9 L82.8,502.9 L82.8,502.9 L82.8,502.9 L82.8,502.9 L82.8,502.9 L82.8,502.9 L82.8,502.9 L82.8,502.9 L82.8,502.9 L82.8,502.9 L82.8,502.9 L82.8,502.9 L82.8,502.9 L82.8,502.9 L82.8,502.9 L82.8,502.9 L82.8,502.9 L82.8,502.9 L82.8,502.9 L82.8,502.9 L82.8,502.9 L82.8,502.9 L82.8,502.9 L82.8,502.9 L82.8,502.9 L82.8,502.9 L82.8,502.9 L82.8,502.9 L82.8,502.9 L82.8,502.9 L82.9,502.9 L82.9,502.9 L82.9,502.9 L82.9,502.9 L82.9,502.9 L82.9,502.9 L82.9,502.9 L82.9,502.9 L82.9,502.9 L82.9,502.9 L82.9,502.9 L82.9,502.9 L82.9,502.9 L82.9,502.9 L82.9,502.9 L82.9,502.9 L82.9,502.9 L83.0,502.9 L83.0,502.9 L83.0,502.9 L83.0,502.9 L83.0,502.9 L83.0,502.9 L83.0,502.9 L83.0,502.9 L83.0,502.9 L83.0,502.9 L83.0,502.9 L83.0,502.9 L83.1,502.9 L83.1,502.9 L83.1,502.9 L83.1,502.9 L83.1,502.9 L83.1,502.9 L83.1,502.9 L83.1,502.9 L83.1,502.9 L83.2,502.9 L83.2,502.9 L83.2,502.9 L83.2,502.9 L83.2,502.9 L83.2,502.9 L83.2,502.9 L83.3,502.9 L83.3,502.9 L83.3,502.9 L83.3,502.9 L83.3,502.9 L83.3,502.9 L83.4,502.9 L83.4,502.9 L83.4,502.9 L83.4,502.9 L83.4,502.9 L83.5,502.9 L83.5,502.9 L83.5,502.9 L83.5,502.9 L83.6,502.9 L83.6,502.9 L83.6,502.9 L83.6,502.9 L83.7,502.9 L83.7,502.9 L83.7,502.9 L83.7,502.9 L83.8,502.9 L83.8,502.9 L83.8,502.9 L83.9,502.9 L83.9,502.9 L83.9,502.9 L84.0,502.9 L84.0,502.9 L84.0,502.9 L84.1,502.9 L84.1,502.9 L84.2,502.9 L84.2,502.9 L84.2,502.9 L84.3,502.9 L84.3,502.9 L84.4,502.9 L84.4,502.9 L84.5,502.9 L84.5,502.9 L84.6,502.9 L84.6,502.9 L84.7,502.9 L84.8,502.9 L84.8,502.9 L84.9,502.9 L84.9,502.9 L85.0,502.9 L85.1,502.9 L85.1,502.9 L85.2,502.9 L85.3,502.9 L85.4,502.9 L85.4,502.9 L85.5,502.9 L85.6,502.9 L85.7,502.9 L85.8,502.9 L85.9,502.9 L85.9,502.9 L86.0,502.9 L86.1,502.9 L86.2,502.9 L86.3,502.9 L86.4,502.9 L86.6,502.9 L86.7,502.9 L86.8,502.9 L86.9,502.9 L87.0,502.9 L87.1,502.9 L87.3,502.9 L87.4,502.9 L87.5,502.9 L87.7,502.9 L87.8,502.9 L88.0,502.9 L88.1,502.9 L88.3,502.9 L88.4,502.9 L88.6,502.9 L88.8,502.9 L89.0,502.9 L89.1,502.9 L89.3,502.9 L89.5,502.9 L89.7,502.9 L89.9,502.9 L90.1,502.9 L90.3,502.9 L90.6,502.9 L90.8,502.9 L91.0,502.9 L91.3,502.3 L91.5,500.4 L91.8,498.4 L92.0,496.4 L92.3,494.4 L92.6,492.5 L92.8,490.5 L93.1,488.5 L93.4,486.5 L93.8,484.6 L94.1,482.6 L94.4,480.6 L94.7,478.6 L95.1,476.7 L95.4,474.7 L95.8,472.7 L96.2,470.7 L96.6,468.8 L97.0,466.8 L97.4,464.8 L97.8,462.8 L98.3,460.9 L98.7,458.9 L99.2,456.9 L99.6,454.9 L100.1,453.0 L100.6,451.0 L101.2,449.0 L101.7,447.0 L102.2,445.1 L102.8,443.1 L103.4,441.1 L104.0,439.1 L104.6,437.2 L105.2,435.2 L105.9,433.2 L106.6,431.2 L107.2,429.2 L108.0,427.3 L108.7,425.3 L109.4,423.3 L110.2,421.3 L111.0,419.4 L111.8,417.4 L112.7,415.4 L113.5,413.4 L114.4,411.5 L115.3,409.5 L116.3,407.5 L117.2,405.5 L118.2,403.6 L119.3,401.6 L120.3,399.6 L121.4,397.6 L122.5,395.7 L123.7,393.7 L124.9,391.7 L127.0,388.3 L129.1,385.1 L131.2,382.0 L133.3,379.1 L135.4,376.2 L137.5,373.5 L139.6,370.9 L141.7,368.4 L143.8,365.9 L146.0,363.6 L148.1,361.3 L150.2,359.1 L152.3,357.0 L154.4,354.9 L156.5,352.9 L158.6,351.0 L160.7,349.1 L162.8,347.2 L164.9,345.4 L167.0,343.6 L169.1,341.9 L171.3,340.3 L173.4,338.6 L175.5,337.0 L177.6,335.5 L179.7,334.0 L181.8,332.5 L183.9,331.0 L186.0,329.6 L188.1,328.2 L190.2,326.8 L192.3,325.4 L194.4,324.1 L196.6,322.8 L198.7,321.6 L200.8,320.3 L202.9,319.1 L205.0,317.9 L207.1,316.7 L209.2,315.5 L211.3,314.4 L213.4,313.3 L215.5,312.1 L217.6,311.0 L219.7,310.0 L221.9,308.9 L224.0,307.9 L226.1,306.8 L228.2,305.8 L230.3,304.8 L232.4,303.9 L234.5,302.9 L236.6,301.9 L238.7,301.0 L240.8,300.1 L242.9,299.1 L245.0,298.2 L247.2,297.3 L249.3,296.4 L251.4,295.6 L253.5,294.7 L255.6,293.9 L257.7,293.0 L259.8,292.2 L261.9,291.4 L264.0,290.6 L266.1,289.8 L268.2,289.0 L270.3,288.2 L272.5,287.4 L274.6,286.6 L276.7,285.9 L278.8,285.1 L280.9,284.4 L283.0,283.7 L285.1,282.9 L287.2,282.2 L289.3,281.5 L291.4,280.8 L293.5,280.1 L295.6,279.4 L297.8,278.7 L299.9,278.0 L302.0,277.4 L304.1,276.7 L306.2,276.1 L308.3,275.4 L310.4,274.8 L312.5,274.1 L314.6,273.5 L316.7,272.9 L318.8,272.2 L320.9,271.6 L323.1,271.0 L325.2,270.4 L327.3,269.8 L329.4,269.2 L331.5,268.6 L333.6,268.0 L335.7,267.5 L337.8,266.9 L339.9,266.3 L342.0,265.7 L344.1,265.2 L346.2,264.6 L348.4,264.1 L350.5,263.5 L352.6,263.0 L354.7,262.4 L356.8,261.9 L358.9,261.4 L361.0,260.8 L363.1,260.3 L365.2,259.8 L367.3,259.3 L369.4,258.8 L371.5,258.3 L373.7,257.8 L375.8,257.3 L377.9,256.8 L380.0,256.3 L382.1,255.8 L384.2,255.3 L386.3,254.8 L388.4,254.3 L390.5,253.9 L392.6,253.4 L394.7,252.9 L396.9,252.4 L399.0,252.0 L401.1,251.5 L403.2,251.1 L405.3,250.6 L407.4,250.2 L409.5,249.7 L411.6,249.3 L413.7,248.8 L415.8,248.4 L417.9,247.9 L420.0,247.5 L422.2,247.1 L424.3,246.6 L426.4,246.2 L428.5,245.8 L430.6,245.4 L432.7,245.0 L434.8,244.5 L436.9,244.1 L439.0,243.7 L441.1,243.3 L443.2,242.9 L445.3,242.5 L447.5,242.1 L449.6,241.7 L451.7,241.3 L453.8,240.9 L455.9,240.5 L458.0,240.1 L460.1,239.7 L462.2,239.3 L464.3,239.0 L466.4,238.6 L468.5,238.2 L470.6,237.8 L472.8,237.4 L474.9,237.1 L477.0,236.7 L479.1,236.3 L481.2,236.0 L483.3,235.6 L485.4,235.2 L487.5,234.9 L489.6,234.5 L491.7,234.1 L493.8,233.8 L495.9,233.4 L498.1,233.1 L500.2,232.7 L502.3,232.4 L504.4,232.0 L506.5,231.7 L508.6,231.3 L510.7,231.0 L512.8,230.7 L514.9,230.3 L517.0,230.0 L519.1,229.6 L521.2,229.3 L523.4,229.0 L525.5,228.6 L527.6,228.3 L529.7,228.0 L531.8,227.7 L533.9,227.3 L536.0,227.0 L538.1,226.7 L540.2,226.4 L542.3,226.1 L544.4,225.7 L546.5,225.4 L548.7,225.1 L550.8,224.8 L552.9,224.5 L555.0,224.2 L557.1,223.9 L559.2,223.6 L561.3,223.2 L563.4,222.9 L565.5,222.6 L567.6,222.3 L569.7,222.0 L571.8,221.7 L574.0,221.4 L576.1,221.1 L578.2,220.8 L580.3,220.6 L582.4,220.3 L584.5,220.0 L586.6,219.7 L588.7,219.4 L590.8,219.1 L592.9,218.8 L595.0,218.5 L597.1,218.2 L599.3,218.0 L601.4,217.7 L603.5,217.4 L605.6,217.1 L607.7,216.8 L609.8,216.6 L611.9,216.3 L614.0,216.0 L616.1,215.7 L618.2,215.5 L620.3,215.2 L622.4,214.9 L624.6,214.6 L626.7,214.4 L628.8,214.1 L630.9,213.8 L633.0,213.6 L635.1,213.3 L637.2,213.0 L639.3,212.8 L641.4,212.5 L643.5,212.3 L645.6,212.0 L647.7,211.7 L649.9,211.5 L652.0,211.2 L654.1,211.0 L656.2,210.7 L658.3,210.5 L660.4,210.2 L662.5,209.9 L664.6,209.7 L666.7,209.4 L668.8,209.2 L670.9,208.9 L673.0,208.7" fill="none" stroke="#1767b9" stroke-width="3.3" stroke-dasharray="3.2 4.05"/>
<polygon points="167.04,347.20 168.41,349.39 171.15,349.40 169.79,351.60 171.15,353.80 168.41,353.81 167.04,356.00 165.66,353.81 162.92,353.80 164.28,351.60 162.92,349.40 165.66,349.39" fill="#000"/>
<polygon points="251.37,299.00 252.75,301.19 255.49,301.20 254.13,303.40 255.49,305.60 252.75,305.61 251.37,307.80 249.99,305.61 247.26,305.60 248.62,303.40 247.26,301.20 249.99,301.19" fill="#000"/>
<polygon points="335.71,232.26 337.09,234.45 339.82,234.46 338.46,236.66 339.82,238.86 337.09,238.87 335.71,241.06 334.33,238.87 331.59,238.86 332.95,236.66 331.59,234.46 334.33,234.45" fill="#000"/>
<polygon points="420.04,232.08 421.42,234.27 424.16,234.28 422.80,236.48 424.16,238.68 421.42,238.69 420.04,240.88 418.66,238.69 415.93,238.68 417.29,236.48 415.93,234.28 418.66,234.27" fill="#000"/>
<polygon points="504.38,231.15 505.76,233.34 508.49,233.35 507.13,235.55 508.49,237.75 505.76,237.76 504.38,239.95 503.00,237.76 500.26,237.75 501.62,235.55 500.26,233.35 503.00,233.34" fill="#000"/>
<polygon points="588.71,231.15 590.09,233.34 592.83,233.35 591.47,235.55 592.83,237.75 590.09,237.76 588.71,239.95 587.34,237.76 584.60,237.75 585.96,235.55 584.60,233.35 587.34,233.34" fill="#000"/>
<polygon points="167.04,335.60 172.44,341.40 167.04,347.20 161.64,341.40" fill="#000"/>
<polygon points="251.37,244.02 256.77,249.82 251.37,255.62 245.97,249.82" fill="#000"/>
<polygon points="335.71,153.00 341.11,158.80 335.71,164.60 330.31,158.80" fill="#000"/>
<polygon points="420.04,152.07 425.44,157.87 420.04,163.67 414.64,157.87" fill="#000"/>
<polygon points="504.38,151.89 509.78,157.69 504.38,163.49 498.98,157.69" fill="#000"/>
<polygon points="588.71,152.26 594.11,158.06 588.71,163.86 583.31,158.06" fill="#000"/>
<path d="M82.7,504.4 L83.5,502.0 L84.4,499.6 L85.2,497.3 L86.1,495.0 L86.9,492.7 L87.8,490.4 L88.6,488.1 L89.4,485.9 L90.3,483.6 L91.1,481.4 L92.0,479.2 L92.8,477.0 L93.7,474.8 L94.5,472.6 L95.4,470.4 L96.2,468.3 L97.0,466.2 L97.9,464.0 L98.7,461.9 L99.6,459.8 L100.4,457.8 L101.3,455.7 L102.1,453.6 L102.9,451.6 L103.8,449.6 L104.6,447.6 L105.5,445.6 L106.3,443.6 L107.2,441.6 L108.0,439.6 L108.8,437.7 L109.7,435.8 L110.5,433.8 L111.4,431.9 L112.2,430.0 L113.1,428.1 L113.9,426.3 L114.7,424.4 L115.6,422.6 L116.4,420.7 L117.3,418.9 L118.1,417.1 L119.0,415.3 L119.8,413.5 L120.7,411.7 L121.5,409.9 L122.3,408.2 L123.2,406.4 L124.0,404.7 L124.9,403.0 L127.0,398.7 L129.1,394.5 L131.2,390.4 L133.3,386.3 L135.4,382.3 L137.5,378.4 L139.6,374.6 L141.7,370.7 L143.8,367.0 L146.0,363.3 L148.1,359.7 L150.2,356.1 L152.3,352.6 L154.4,349.2 L156.5,345.8 L158.6,342.4 L160.7,339.1 L162.8,335.9 L164.9,332.7 L167.0,329.6 L169.1,326.5 L171.3,323.5 L173.4,320.5 L175.5,317.5 L177.6,314.6 L179.7,311.8 L181.8,309.0 L183.9,306.2 L186.0,303.5 L188.1,300.9 L190.2,298.2 L192.3,295.7 L194.4,293.1 L196.6,290.6 L198.7,288.2 L200.8,285.7 L202.9,283.4 L205.0,281.0 L207.1,278.7 L209.2,276.4 L211.3,274.2 L213.4,272.0 L215.5,269.9 L217.6,267.7 L219.7,265.6 L221.9,263.6 L224.0,261.6 L226.1,259.6 L228.2,257.6 L230.3,255.7 L232.4,253.8 L234.5,251.9 L236.6,250.1 L238.7,248.2 L240.8,246.5 L242.9,244.7 L245.0,243.0 L247.2,241.3 L249.3,239.6 L251.4,238.0 L253.5,236.4 L255.6,234.8 L257.7,233.2 L259.8,231.7 L261.9,230.2 L264.0,228.7 L266.1,227.2 L268.2,225.8 L270.3,224.3 L272.5,222.9 L274.6,221.6 L276.7,220.2 L278.8,218.9 L280.9,217.6 L283.0,216.3 L285.1,215.0 L287.2,213.8 L289.3,212.5 L291.4,211.3 L293.5,210.1 L295.6,209.0 L297.8,207.8 L299.9,206.7 L302.0,205.6 L304.1,204.5 L306.2,203.4 L308.3,202.3 L310.4,201.3 L312.5,200.3 L314.6,199.2 L316.7,198.2 L318.8,197.3 L320.9,196.3 L323.1,195.4 L325.2,194.4 L327.3,193.5 L329.4,192.6 L331.5,191.7 L333.6,190.8 L335.7,190.0 L337.8,189.1 L339.9,188.3 L342.0,187.5 L344.1,186.7 L346.2,185.9 L348.4,185.1 L350.5,184.3 L352.6,183.6 L354.7,182.8 L356.8,182.1 L358.9,181.4 L361.0,180.7 L363.1,180.0 L365.2,179.3 L367.3,178.6 L369.4,177.9 L371.5,177.3 L373.7,176.6 L375.8,176.0 L377.9,175.4 L380.0,174.8 L382.1,174.2 L384.2,173.6 L386.3,173.0 L388.4,172.4 L390.5,171.8 L392.6,171.3 L394.7,170.7 L396.9,170.2 L399.0,169.7 L401.1,169.2 L403.2,168.6 L405.3,168.1 L407.4,167.6 L409.5,167.1 L411.6,166.7 L413.7,166.2 L415.8,165.7 L417.9,165.3 L420.0,164.8 L422.2,164.4 L424.3,163.9 L426.4,163.5 L428.5,163.1 L430.6,162.7 L432.7,162.3 L434.8,161.9 L436.9,161.5 L439.0,161.1 L441.1,160.7 L443.2,160.3 L445.3,159.9 L447.5,159.6 L449.6,159.2 L451.7,158.9 L453.8,158.5 L455.9,158.2 L458.0,157.8 L460.1,157.5 L462.2,157.2 L464.3,156.8 L466.4,156.5 L468.5,156.2 L470.6,155.9 L472.8,155.6 L474.9,155.3 L477.0,155.0 L479.1,154.7 L481.2,154.5 L483.3,154.2 L485.4,153.9 L487.5,153.6 L489.6,153.4 L491.7,153.1 L493.8,152.8 L495.9,152.6 L498.1,152.3 L500.2,152.1 L502.3,151.9 L504.4,151.6 L506.5,151.4 L508.6,151.2 L510.7,150.9 L512.8,150.7 L514.9,150.5 L517.0,150.3 L519.1,150.1 L521.2,149.9 L523.4,149.7 L525.5,149.5 L527.6,149.3 L529.7,149.1 L531.8,148.9 L533.9,148.7 L536.0,148.5 L538.1,148.3 L540.2,148.1 L542.3,148.0 L544.4,147.8 L546.5,147.6 L548.7,147.5 L550.8,147.3 L552.9,147.1 L555.0,147.0 L557.1,146.8 L559.2,146.6 L561.3,146.5 L563.4,146.3 L565.5,146.2 L567.6,146.1 L569.7,145.9 L571.8,145.8 L574.0,145.6 L576.1,145.5 L578.2,145.4 L580.3,145.2 L582.4,145.1 L584.5,145.0 L586.6,144.8 L588.7,144.7 L590.8,144.6 L592.9,144.5 L595.0,144.4 L597.1,144.2 L599.3,144.1 L601.4,144.0 L603.5,143.9 L605.6,143.8 L607.7,143.7 L609.8,143.6 L611.9,143.5 L614.0,143.4 L616.1,143.3 L618.2,143.2 L620.3,143.1 L622.4,143.0 L624.6,142.9 L626.7,142.8 L628.8,142.7 L630.9,142.6 L633.0,142.5 L635.1,142.4 L637.2,142.4 L639.3,142.3 L641.4,142.2 L643.5,142.1 L645.6,142.0 L647.7,141.9 L649.9,141.9 L652.0,141.8 L654.1,141.7 L656.2,141.6 L658.3,141.6 L660.4,141.5 L662.5,141.4 L664.6,141.4 L666.7,141.3 L668.8,141.2 L670.9,141.2 L673.0,141.1" fill="none" stroke="#1767b9" stroke-width="3.1"/>
<path d="M82.7,504.4 L83.5,501.4 L84.4,498.4 L85.2,495.5 L86.1,492.6 L86.9,489.8 L87.8,487.0 L88.6,484.2 L89.4,481.5 L90.3,478.8 L91.1,476.1 L92.0,473.5 L92.8,470.9 L93.7,468.3 L94.5,465.7 L95.4,463.2 L96.2,460.7 L97.0,458.3 L97.9,455.9 L98.7,453.5 L99.6,451.1 L100.4,448.8 L101.3,446.4 L102.1,444.2 L102.9,441.9 L103.8,439.7 L104.6,437.4 L105.5,435.2 L106.3,433.1 L107.2,430.9 L108.0,428.8 L108.8,426.7 L109.7,424.7 L110.5,422.6 L111.4,420.6 L112.2,418.6 L113.1,416.6 L113.9,414.6 L114.7,412.7 L115.6,410.7 L116.4,408.8 L117.3,407.0 L118.1,405.1 L119.0,403.2 L119.8,401.4 L120.7,399.6 L121.5,397.8 L122.3,396.0 L123.2,394.3 L124.0,392.5 L124.9,390.8 L127.0,386.6 L129.1,382.5 L131.2,378.4 L133.3,374.5 L135.4,370.6 L137.5,366.9 L139.6,363.2 L141.7,359.6 L143.8,356.1 L146.0,352.7 L148.1,349.3 L150.2,346.0 L152.3,342.8 L154.4,339.6 L156.5,336.5 L158.6,333.5 L160.7,330.5 L162.8,327.6 L164.9,324.8 L167.0,322.0 L169.1,319.3 L171.3,316.6 L173.4,314.0 L175.5,311.4 L177.6,308.8 L179.7,306.4 L181.8,303.9 L183.9,301.5 L186.0,299.2 L188.1,296.9 L190.2,294.6 L192.3,292.4 L194.4,290.2 L196.6,288.0 L198.7,285.9 L200.8,283.8 L202.9,281.8 L205.0,279.8 L207.1,277.8 L209.2,275.8 L211.3,273.9 L213.4,272.0 L215.5,270.2 L217.6,268.4 L219.7,266.6 L221.9,264.8 L224.0,263.1 L226.1,261.4 L228.2,259.7 L230.3,258.0 L232.4,256.4 L234.5,254.8 L236.6,253.2 L238.7,251.6 L240.8,250.1 L242.9,248.6 L245.0,247.1 L247.2,245.6 L249.3,244.1 L251.4,242.7 L253.5,241.3 L255.6,239.9 L257.7,238.5 L259.8,237.2 L261.9,235.8 L264.0,234.5 L266.1,233.2 L268.2,231.9 L270.3,230.7 L272.5,229.4 L274.6,228.2 L276.7,227.0 L278.8,225.8 L280.9,224.6 L283.0,223.4 L285.1,222.3 L287.2,221.1 L289.3,220.0 L291.4,218.9 L293.5,217.8 L295.6,216.7 L297.8,215.6 L299.9,214.6 L302.0,213.5 L304.1,212.5 L306.2,211.5 L308.3,210.5 L310.4,209.5 L312.5,208.5 L314.6,207.5 L316.7,206.5 L318.8,205.6 L320.9,204.7 L323.1,203.7 L325.2,202.8 L327.3,201.9 L329.4,201.0 L331.5,200.1 L333.6,199.2 L335.7,198.4 L337.8,197.5 L339.9,196.6 L342.0,195.8 L344.1,195.0 L346.2,194.2 L348.4,193.3 L350.5,192.5 L352.6,191.7 L354.7,190.9 L356.8,190.2 L358.9,189.4 L361.0,188.6 L363.1,187.9 L365.2,187.1 L367.3,186.4 L369.4,185.6 L371.5,184.9 L373.7,184.2 L375.8,183.5 L377.9,182.8 L380.0,182.1 L382.1,181.4 L384.2,180.7 L386.3,180.0 L388.4,179.4 L390.5,178.7 L392.6,178.0 L394.7,177.4 L396.9,176.7 L399.0,176.1 L401.1,175.5 L403.2,174.8 L405.3,174.2 L407.4,173.6 L409.5,173.0 L411.6,172.4 L413.7,171.8 L415.8,171.2 L417.9,170.6 L420.0,170.0 L422.2,169.4 L424.3,168.9 L426.4,168.3 L428.5,167.7 L430.6,167.2 L432.7,166.6 L434.8,166.1 L436.9,165.5 L439.0,165.0 L441.1,164.5 L443.2,163.9 L445.3,163.4 L447.5,162.9 L449.6,162.4 L451.7,161.9 L453.8,161.4 L455.9,160.9 L458.0,160.4 L460.1,159.9 L462.2,159.4 L464.3,158.9 L466.4,158.4 L468.5,157.9 L470.6,157.4 L472.8,157.0 L474.9,156.5 L477.0,156.0 L479.1,155.6 L481.2,155.1 L483.3,154.7 L485.4,154.2 L487.5,153.8 L489.6,153.3 L491.7,152.9 L493.8,152.5 L495.9,152.0 L498.1,151.6 L500.2,151.2 L502.3,150.8 L504.4,150.3 L506.5,149.9 L508.6,149.5 L510.7,149.1 L512.8,148.7 L514.9,148.3 L517.0,147.9 L519.1,147.5 L521.2,147.1 L523.4,146.7 L525.5,146.3 L527.6,146.0 L529.7,145.6 L531.8,145.2 L533.9,144.8 L536.0,144.4 L538.1,144.1 L540.2,143.7 L542.3,143.3 L544.4,143.0 L546.5,142.6 L548.7,142.2 L550.8,141.9 L552.9,141.5 L555.0,141.2 L557.1,140.8 L559.2,140.5 L561.3,140.2 L563.4,139.8 L565.5,139.5 L567.6,139.1 L569.7,138.8 L571.8,138.5 L574.0,138.1 L576.1,137.8 L578.2,137.5 L580.3,137.2 L582.4,136.8 L584.5,136.5 L586.6,136.2 L588.7,135.9 L590.8,135.6 L592.9,135.3 L595.0,135.0 L597.1,134.7 L599.3,134.4 L601.4,134.1 L603.5,133.8 L605.6,133.5 L607.7,133.2 L609.8,132.9 L611.9,132.6 L614.0,132.3 L616.1,132.0 L618.2,131.7 L620.3,131.4 L622.4,131.1 L624.6,130.9 L626.7,130.6 L628.8,130.3 L630.9,130.0 L633.0,129.7 L635.1,129.5 L637.2,129.2 L639.3,128.9 L641.4,128.7 L643.5,128.4 L645.6,128.1 L647.7,127.9 L649.9,127.6 L652.0,127.3 L654.1,127.1 L656.2,126.8 L658.3,126.6 L660.4,126.3 L662.5,126.1 L664.6,125.8 L666.7,125.6 L668.8,125.3 L670.9,125.1 L673.0,124.8" fill="none" stroke="#1767b9" stroke-width="3.3" stroke-dasharray="14 14.6" stroke-dashoffset="-14.46"/>
<path d="M82.7,502.9 L82.7,502.9 L82.7,502.9 L82.7,502.9 L82.7,502.9 L82.7,502.9 L82.7,502.9 L82.7,502.9 L82.7,502.9 L82.7,502.9 L82.7,502.9 L82.7,502.9 L82.7,502.9 L82.7,502.9 L82.7,502.9 L82.7,502.9 L82.7,502.9 L82.7,502.9 L82.7,502.9 L82.7,502.9 L82.7,502.9 L82.7,502.9 L82.7,502.9 L82.7,502.9 L82.7,502.9 L82.7,502.9 L82.7,502.9 L82.7,502.9 L82.7,502.9 L82.7,502.9 L82.7,502.9 L82.7,502.9 L82.7,502.9 L82.7,502.9 L82.7,502.9 L82.7,502.9 L82.7,502.9 L82.7,502.9 L82.7,502.9 L82.7,502.9 L82.7,502.9 L82.7,502.9 L82.7,502.9 L82.7,502.9 L82.7,502.9 L82.7,502.9 L82.7,502.9 L82.7,502.9 L82.7,502.9 L82.7,502.9 L82.7,502.9 L82.7,502.9 L82.7,502.9 L82.7,502.9 L82.7,502.9 L82.7,502.9 L82.7,502.9 L82.7,502.9 L82.7,502.9 L82.7,502.9 L82.7,502.9 L82.7,502.9 L82.7,502.9 L82.8,502.9 L82.8,502.9 L82.8,502.9 L82.8,502.9 L82.8,502.9 L82.8,502.9 L82.8,502.9 L82.8,502.9 L82.8,502.9 L82.8,502.9 L82.8,502.9 L82.8,502.9 L82.8,502.9 L82.8,502.9 L82.8,502.9 L82.8,502.9 L82.8,502.9 L82.8,502.9 L82.8,502.9 L82.8,502.9 L82.8,502.9 L82.8,502.9 L82.8,502.9 L82.8,502.9 L82.8,502.9 L82.8,502.9 L82.8,502.9 L82.8,502.9 L82.8,502.9 L82.8,502.9 L82.8,502.9 L82.8,502.9 L82.8,502.9 L82.8,502.9 L82.8,502.9 L82.8,502.9 L82.8,502.9 L82.8,502.9 L82.8,502.9 L82.9,502.9 L82.9,502.9 L82.9,502.9 L82.9,502.9 L82.9,502.9 L82.9,502.9 L82.9,502.9 L82.9,502.9 L82.9,502.9 L82.9,502.9 L82.9,502.9 L82.9,502.9 L82.9,502.9 L82.9,502.9 L82.9,502.9 L82.9,502.9 L82.9,502.9 L83.0,502.9 L83.0,502.9 L83.0,502.9 L83.0,502.9 L83.0,502.9 L83.0,502.9 L83.0,502.9 L83.0,502.9 L83.0,502.9 L83.0,502.9 L83.0,502.9 L83.0,502.9 L83.1,502.9 L83.1,502.9 L83.1,502.9 L83.1,502.9 L83.1,502.9 L83.1,502.9 L83.1,502.9 L83.1,502.9 L83.1,502.9 L83.2,502.9 L83.2,502.9 L83.2,502.9 L83.2,502.9 L83.2,502.9 L83.2,502.9 L83.2,502.9 L83.3,502.9 L83.3,502.9 L83.3,502.9 L83.3,502.9 L83.3,502.9 L83.3,502.9 L83.4,502.9 L83.4,502.9 L83.4,502.9 L83.4,502.9 L83.4,502.9 L83.5,502.9 L83.5,502.9 L83.5,502.9 L83.5,502.9 L83.6,502.9 L83.6,502.9 L83.6,502.9 L83.6,502.9 L83.7,502.9 L83.7,502.9 L83.7,502.9 L83.7,502.9 L83.8,502.9 L83.8,502.9 L83.8,502.9 L83.9,502.9 L83.9,502.9 L83.9,502.9 L84.0,502.9 L84.0,502.9 L84.0,502.9 L84.1,502.9 L84.1,502.9 L84.2,502.9 L84.2,502.9 L84.2,502.9 L84.3,502.9 L84.3,502.9 L84.4,502.9 L84.4,502.9 L84.5,502.9 L84.5,502.9 L84.6,502.9 L84.6,502.9 L84.7,502.9 L84.8,502.9 L84.8,502.9 L84.9,502.9 L84.9,502.9 L85.0,502.9 L85.1,502.9 L85.1,502.9 L85.2,502.9 L85.3,502.9 L85.4,502.9 L85.4,502.9 L85.5,502.9 L85.6,502.9 L85.7,502.9 L85.8,502.9 L85.9,502.9 L85.9,502.9 L86.0,502.9 L86.1,502.9 L86.2,502.9 L86.3,502.9 L86.4,502.9 L86.6,502.9 L86.7,502.9 L86.8,502.9 L86.9,502.9 L87.0,502.9 L87.1,502.9 L87.3,502.9 L87.4,502.9 L87.5,502.9 L87.7,502.9 L87.8,502.9 L88.0,502.9 L88.1,502.9 L88.3,502.9 L88.4,502.9 L88.6,502.9 L88.8,502.9 L89.0,502.9 L89.1,502.9 L89.3,502.9 L89.5,502.9 L89.7,502.9 L89.9,502.9 L90.1,502.9 L90.3,502.9 L90.6,502.9 L90.8,502.9 L91.0,502.9 L91.3,502.9 L91.5,502.9 L91.8,502.9 L92.0,502.9 L92.3,502.9 L92.6,502.9 L92.8,502.9 L93.1,502.9 L93.4,502.9 L93.8,502.9 L94.1,502.9 L94.4,502.9 L94.7,502.9 L95.1,502.9 L95.4,502.9 L95.8,502.9 L96.2,502.9 L96.6,502.9 L97.0,502.9 L97.4,502.9 L97.8,502.9 L98.3,502.9 L98.7,502.9 L99.2,500.2 L99.6,497.1 L100.1,494.0 L100.6,491.0 L101.2,487.9 L101.7,484.8 L102.2,481.7 L102.8,478.6 L103.4,475.5 L104.0,472.4 L104.6,469.3 L105.2,466.2 L105.9,463.1 L106.6,460.0 L107.2,456.9 L108.0,453.8 L108.7,450.8 L109.4,447.7 L110.2,444.6 L111.0,441.5 L111.8,438.4 L112.7,435.3 L113.5,432.2 L114.4,429.1 L115.3,426.0 L116.3,422.9 L117.2,419.8 L118.2,416.7 L119.3,413.7 L120.3,410.6 L121.4,407.5 L122.5,404.4 L123.7,401.3 L124.9,398.2 L127.0,392.9 L129.1,387.9 L131.2,383.0 L133.3,378.4 L135.4,374.0 L137.5,369.7 L139.6,365.6 L141.7,361.7 L143.8,357.9 L146.0,354.2 L148.1,350.6 L150.2,347.2 L152.3,343.8 L154.4,340.6 L156.5,337.5 L158.6,334.4 L160.7,331.4 L162.8,328.5 L164.9,325.7 L167.0,323.0 L169.1,320.3 L171.3,317.7 L173.4,315.1 L175.5,312.6 L177.6,310.2 L179.7,307.8 L181.8,305.5 L183.9,303.2 L186.0,300.9 L188.1,298.7 L190.2,296.6 L192.3,294.5 L194.4,292.4 L196.6,290.4 L198.7,288.4 L200.8,286.4 L202.9,284.5 L205.0,282.6 L207.1,280.8 L209.2,279.0 L211.3,277.2 L213.4,275.4 L215.5,273.7 L217.6,271.9 L219.7,270.3 L221.9,268.6 L224.0,267.0 L226.1,265.4 L228.2,263.8 L230.3,262.2 L232.4,260.7 L234.5,259.2 L236.6,257.7 L238.7,256.2 L240.8,254.7 L242.9,253.3 L245.0,251.9 L247.2,250.5 L249.3,249.1 L251.4,247.7 L253.5,246.4 L255.6,245.0 L257.7,243.7 L259.8,242.4 L261.9,241.1 L264.0,239.9 L266.1,238.6 L268.2,237.4 L270.3,236.2 L272.5,234.9 L274.6,233.7 L276.7,232.6 L278.8,231.4 L280.9,230.2 L283.0,229.1 L285.1,227.9 L287.2,226.8 L289.3,225.7 L291.4,224.6 L293.5,223.5 L295.6,222.4 L297.8,221.4 L299.9,220.3 L302.0,219.2 L304.1,218.2 L306.2,217.2 L308.3,216.2 L310.4,215.2 L312.5,214.2 L314.6,213.2 L316.7,212.2 L318.8,211.2 L320.9,210.2 L323.1,209.3 L325.2,208.3 L327.3,207.4 L329.4,206.5 L331.5,205.5 L333.6,204.6 L335.7,203.7 L337.8,202.8 L339.9,201.9 L342.0,201.0 L344.1,200.2 L346.2,199.3 L348.4,198.4 L350.5,197.6 L352.6,196.7 L354.7,195.9 L356.8,195.0 L358.9,194.2 L361.0,193.4 L363.1,192.6 L365.2,191.7 L367.3,190.9 L369.4,190.1 L371.5,189.3 L373.7,188.5 L375.8,187.8 L377.9,187.0 L380.0,186.2 L382.1,185.4 L384.2,184.7 L386.3,183.9 L388.4,183.2 L390.5,182.4 L392.6,181.7 L394.7,181.0 L396.9,180.2 L399.0,179.5 L401.1,178.8 L403.2,178.1 L405.3,177.3 L407.4,176.6 L409.5,175.9 L411.6,175.2 L413.7,174.5 L415.8,173.9 L417.9,173.2 L420.0,172.5 L422.2,171.8 L424.3,171.1 L426.4,170.5 L428.5,169.8 L430.6,169.2 L432.7,168.5 L434.8,167.8 L436.9,167.2 L439.0,166.6 L441.1,165.9 L443.2,165.3 L445.3,164.6 L447.5,164.0 L449.6,163.4 L451.7,162.8 L453.8,162.1 L455.9,161.5 L458.0,160.9 L460.1,160.3 L462.2,159.7 L464.3,159.1 L466.4,158.5 L468.5,157.9 L470.6,157.3 L472.8,156.7 L474.9,156.1 L477.0,155.6 L479.1,155.0 L481.2,154.4 L483.3,153.8 L485.4,153.3 L487.5,152.7 L489.6,152.1 L491.7,151.6 L493.8,151.0 L495.9,150.5 L498.1,149.9 L500.2,149.4 L502.3,148.8 L504.4,148.3 L506.5,147.7 L508.6,147.2 L510.7,146.7 L512.8,146.1 L514.9,145.6 L517.0,145.1 L519.1,144.5 L521.2,144.0 L523.4,143.5 L525.5,143.0 L527.6,142.5 L529.7,141.9 L531.8,141.4 L533.9,140.9 L536.0,140.4 L538.1,139.9 L540.2,139.4 L542.3,138.9 L544.4,138.4 L546.5,137.9 L548.7,137.4 L550.8,136.9 L552.9,136.5 L555.0,136.0 L557.1,135.5 L559.2,135.0 L561.3,134.5 L563.4,134.0 L565.5,133.6 L567.6,133.1 L569.7,132.6 L571.8,132.2 L574.0,131.7 L576.1,131.2 L578.2,130.8 L580.3,130.3 L582.4,129.8 L584.5,129.4 L586.6,128.9 L588.7,128.5 L590.8,128.0 L592.9,127.6 L595.0,127.1 L597.1,126.7 L599.3,126.2 L601.4,125.8 L603.5,125.4 L605.6,124.9 L607.7,124.5 L609.8,124.1 L611.9,123.6 L614.0,123.2 L616.1,122.8 L618.2,122.3 L620.3,121.9 L622.4,121.5 L624.6,121.1 L626.7,120.6 L628.8,120.2 L630.9,119.8 L633.0,119.4 L635.1,119.0 L637.2,118.5 L639.3,118.1 L641.4,117.7 L643.5,117.3 L645.6,116.9 L647.7,116.5 L649.9,116.1 L652.0,115.7 L654.1,115.3 L656.2,114.9 L658.3,114.5 L660.4,114.1 L662.5,113.7 L664.6,113.3 L666.7,112.9 L668.8,112.5 L670.9,112.1 L673.0,111.8" fill="none" stroke="#1767b9" stroke-width="3.3" stroke-dasharray="3.2 4.05"/>
<path d="M82.7,504.4 L83.5,501.9 L84.4,499.5 L85.2,497.0 L86.1,494.6 L86.9,492.2 L87.8,489.8 L88.6,487.4 L89.4,485.1 L90.3,482.7 L91.1,480.4 L92.0,478.1 L92.8,475.8 L93.7,473.5 L94.5,471.2 L95.4,468.9 L96.2,466.6 L97.0,464.4 L97.9,462.1 L98.7,459.9 L99.6,457.7 L100.4,455.5 L101.3,453.3 L102.1,451.1 L102.9,449.0 L103.8,446.8 L104.6,444.7 L105.5,442.5 L106.3,440.4 L107.2,438.3 L108.0,436.2 L108.8,434.1 L109.7,432.1 L110.5,430.0 L111.4,427.9 L112.2,425.9 L113.1,423.9 L113.9,421.8 L114.7,419.8 L115.6,417.8 L116.4,415.9 L117.3,413.9 L118.1,411.9 L119.0,410.0 L119.8,408.0 L120.7,406.1 L121.5,404.2 L122.3,402.3 L123.2,400.3 L124.0,398.5 L124.9,396.6 L127.0,391.9 L129.1,387.3 L131.2,382.8 L133.3,378.3 L135.4,373.9 L137.5,369.5 L139.6,365.2 L141.7,361.0 L143.8,356.8 L146.0,352.7 L148.1,348.6 L150.2,344.6 L152.3,340.7 L154.4,336.8 L156.5,332.9 L158.6,329.1 L160.7,325.4 L162.8,321.7 L164.9,318.0 L167.0,314.4 L169.1,310.8 L171.3,307.3 L173.4,303.9 L175.5,300.5 L177.6,297.1 L179.7,293.8 L181.8,290.5 L183.9,287.3 L186.0,284.1 L188.1,280.9 L190.2,277.8 L192.3,274.8 L194.4,271.8 L196.6,268.8 L198.7,265.9 L200.8,263.0 L202.9,260.1 L205.0,257.3 L207.1,254.5 L209.2,251.7 L211.3,249.0 L213.4,246.4 L215.5,243.7 L217.6,241.1 L219.7,238.6 L221.9,236.0 L224.0,233.5 L226.1,231.1 L228.2,228.6 L230.3,226.2 L232.4,223.9 L234.5,221.5 L236.6,219.2 L238.7,217.0 L240.8,214.7 L242.9,212.5 L245.0,210.3 L247.2,208.2 L249.3,206.1 L251.4,204.0 L253.5,201.9 L255.6,199.9 L257.7,197.9 L259.8,195.9 L261.9,193.9 L264.0,192.0 L266.1,190.1 L268.2,188.2 L270.3,186.3 L272.5,184.5 L274.6,182.7 L276.7,180.9 L278.8,179.2 L280.9,177.4 L283.0,175.7 L285.1,174.1 L287.2,172.4 L289.3,170.8 L291.4,169.1 L293.5,167.5 L295.6,166.0 L297.8,164.4 L299.9,162.9 L302.0,161.4 L304.1,159.9 L306.2,158.4 L308.3,157.0 L310.4,155.5 L312.5,154.1 L314.6,152.7 L316.7,151.3 L318.8,150.0 L320.9,148.6 L323.1,147.3 L325.2,146.0 L327.3,144.7 L329.4,143.5 L331.5,142.2 L333.6,141.0 L335.7,139.8 L337.8,138.6 L339.9,137.4 L342.0,136.2 L344.1,135.1 L346.2,133.9 L348.4,132.8 L350.5,131.7 L352.6,130.6 L354.7,129.5 L356.8,128.5 L358.9,127.4 L361.0,126.4 L363.1,125.4 L365.2,124.3 L367.3,123.4 L369.4,122.4 L371.5,121.4 L373.7,120.5 L375.8,119.5 L377.9,118.6 L380.0,117.7 L382.1,116.8 L384.2,115.9 L386.3,115.0 L388.4,114.1 L390.5,113.3 L392.6,112.4 L394.7,111.6 L396.9,110.8 L399.0,110.0 L401.1,109.2 L403.2,108.4 L405.3,107.6 L407.4,106.8 L409.5,106.1 L411.6,105.3 L413.7,104.6 L415.8,103.9 L417.9,103.1 L420.0,102.4 L422.2,101.7 L424.3,101.1 L426.4,100.4 L428.5,99.7 L430.6,99.0 L432.7,98.4 L434.8,97.7 L436.9,97.1 L439.0,96.5 L441.1,95.9 L443.2,95.3 L445.3,94.7 L447.5,94.1 L449.6,93.5 L451.7,92.9 L453.8,92.3 L455.9,91.8 L458.0,91.2 L460.1,90.7 L462.2,90.1 L464.3,89.6 L466.4,89.1 L468.5,88.6 L470.6,88.0 L472.8,87.5 L474.9,87.0 L477.0,86.5 L479.1,86.1 L481.2,85.6 L483.3,85.1 L485.4,84.6 L487.5,84.2 L489.6,83.7 L491.7,83.3 L493.8,82.9 L495.9,82.4 L498.1,82.0 L500.2,81.6 L502.3,81.1 L504.4,80.7 L506.5,80.3 L508.6,79.9 L510.7,79.5 L512.8,79.1 L514.9,78.8 L517.0,78.4 L519.1,78.0 L521.2,77.6 L523.4,77.3 L525.5,76.9 L527.6,76.6 L529.7,76.2 L531.8,75.9 L533.9,75.5 L536.0,75.2 L538.1,74.9 L540.2,74.5 L542.3,74.2 L544.4,73.9 L546.5,73.6 L548.7,73.3 L550.8,73.0 L552.9,72.7 L555.0,72.4 L557.1,72.1 L559.2,71.8 L561.3,71.5 L563.4,71.2 L565.5,70.9 L567.6,70.7 L569.7,70.4 L571.8,70.1 L574.0,69.9 L576.1,69.6 L578.2,69.4 L580.3,69.1 L582.4,68.8 L584.5,68.6 L586.6,68.4 L588.7,68.1 L590.8,67.9 L592.9,67.7 L595.0,67.4 L597.1,67.2 L599.3,67.0 L601.4,66.8 L603.5,66.5 L605.6,66.3 L607.7,66.1 L609.8,65.9 L611.9,65.7 L614.0,65.5 L616.1,65.3 L618.2,65.1 L620.3,64.9 L622.4,64.7 L624.6,64.5 L626.7,64.3 L628.8,64.1 L630.9,64.0 L633.0,63.8 L635.1,63.6 L637.2,63.4 L639.3,63.3 L641.4,63.1 L643.5,62.9 L645.6,62.8 L647.7,62.6 L649.9,62.4 L652.0,62.3 L654.1,62.1 L656.2,62.0 L658.3,61.8 L660.4,61.7 L662.5,61.5 L664.6,61.4 L666.7,61.2 L668.8,61.1 L670.9,60.9 L673.0,60.8" fill="none" stroke="#1767b9" stroke-width="3.1"/>
<path d="M82.7,504.4 L83.5,501.4 L84.4,498.6 L85.2,495.7 L86.1,492.9 L86.9,490.1 L87.8,487.3 L88.6,484.6 L89.4,481.9 L90.3,479.2 L91.1,476.5 L92.0,473.9 L92.8,471.2 L93.7,468.7 L94.5,466.1 L95.4,463.5 L96.2,461.0 L97.0,458.5 L97.9,456.0 L98.7,453.6 L99.6,451.1 L100.4,448.7 L101.3,446.3 L102.1,444.0 L102.9,441.6 L103.8,439.3 L104.6,437.0 L105.5,434.7 L106.3,432.4 L107.2,430.2 L108.0,427.9 L108.8,425.7 L109.7,423.5 L110.5,421.3 L111.4,419.2 L112.2,417.0 L113.1,414.9 L113.9,412.8 L114.7,410.7 L115.6,408.7 L116.4,406.6 L117.3,404.6 L118.1,402.6 L119.0,400.6 L119.8,398.6 L120.7,396.6 L121.5,394.6 L122.3,392.7 L123.2,390.8 L124.0,388.9 L124.9,387.0 L127.0,382.3 L129.1,377.7 L131.2,373.2 L133.3,368.8 L135.4,364.5 L137.5,360.2 L139.6,356.1 L141.7,352.0 L143.8,347.9 L146.0,344.0 L148.1,340.1 L150.2,336.3 L152.3,332.6 L154.4,328.9 L156.5,325.3 L158.6,321.7 L160.7,318.2 L162.8,314.8 L164.9,311.4 L167.0,308.1 L169.1,304.8 L171.3,301.6 L173.4,298.4 L175.5,295.3 L177.6,292.2 L179.7,289.2 L181.8,286.2 L183.9,283.3 L186.0,280.4 L188.1,277.6 L190.2,274.8 L192.3,272.0 L194.4,269.3 L196.6,266.6 L198.7,264.0 L200.8,261.4 L202.9,258.8 L205.0,256.3 L207.1,253.8 L209.2,251.4 L211.3,249.0 L213.4,246.6 L215.5,244.2 L217.6,241.9 L219.7,239.6 L221.9,237.4 L224.0,235.1 L226.1,232.9 L228.2,230.8 L230.3,228.6 L232.4,226.5 L234.5,224.4 L236.6,222.4 L238.7,220.4 L240.8,218.3 L242.9,216.4 L245.0,214.4 L247.2,212.5 L249.3,210.6 L251.4,208.7 L253.5,206.8 L255.6,205.0 L257.7,203.2 L259.8,201.4 L261.9,199.6 L264.0,197.9 L266.1,196.1 L268.2,194.4 L270.3,192.7 L272.5,191.1 L274.6,189.4 L276.7,187.8 L278.8,186.2 L280.9,184.6 L283.0,183.0 L285.1,181.5 L287.2,179.9 L289.3,178.4 L291.4,176.9 L293.5,175.4 L295.6,173.9 L297.8,172.5 L299.9,171.0 L302.0,169.6 L304.1,168.2 L306.2,166.8 L308.3,165.4 L310.4,164.0 L312.5,162.7 L314.6,161.3 L316.7,160.0 L318.8,158.7 L320.9,157.4 L323.1,156.1 L325.2,154.8 L327.3,153.6 L329.4,152.3 L331.5,151.1 L333.6,149.9 L335.7,148.7 L337.8,147.5 L339.9,146.3 L342.0,145.1 L344.1,144.0 L346.2,142.8 L348.4,141.7 L350.5,140.5 L352.6,139.4 L354.7,138.3 L356.8,137.2 L358.9,136.1 L361.0,135.0 L363.1,134.0 L365.2,132.9 L367.3,131.9 L369.4,130.8 L371.5,129.8 L373.7,128.8 L375.8,127.8 L377.9,126.8 L380.0,125.8 L382.1,124.8 L384.2,123.8 L386.3,122.9 L388.4,121.9 L390.5,121.0 L392.6,120.0 L394.7,119.1 L396.9,118.2 L399.0,117.2 L401.1,116.3 L403.2,115.4 L405.3,114.5 L407.4,113.7 L409.5,112.8 L411.6,111.9 L413.7,111.0 L415.8,110.2 L417.9,109.3 L420.0,108.5 L422.2,107.7 L424.3,106.8 L426.4,106.0 L428.5,105.2 L430.6,104.4 L432.7,103.6 L434.8,102.8 L436.9,102.0 L439.0,101.2 L441.1,100.4 L443.2,99.7 L445.3,98.9 L447.5,98.2 L449.6,97.4 L451.7,96.7 L453.8,95.9 L455.9,95.2 L458.0,94.4 L460.1,93.7 L462.2,93.0 L464.3,92.3 L466.4,91.6 L468.5,90.9 L470.6,90.2 L472.8,89.5 L474.9,88.8 L477.0,88.1 L479.1,87.5 L481.2,86.8 L483.3,86.1 L485.4,85.5 L487.5,84.8 L489.6,84.1 L491.7,83.5 L493.8,82.9 L495.9,82.2 L498.1,81.6 L500.2,81.0 L502.3,80.3 L504.4,79.7 L506.5,79.1 L508.6,78.5 L510.7,77.9 L512.8,77.3 L514.9,76.7 L517.0,76.1 L519.1,75.5 L521.2,74.9 L523.4,74.3 L525.5,73.7 L527.6,73.2 L529.7,72.6 L531.8,72.0 L533.9,71.5 L536.0,70.9 L538.1,70.4 L540.2,69.8 L542.3,69.3 L544.4,68.7 L546.5,68.2 L548.7,67.6 L550.8,67.1 L552.9,66.6 L555.0,66.1 L557.1,65.5 L559.2,65.0 L561.3,64.5 L563.4,64.0 L565.5,63.5 L567.6,63.0 L569.7,62.5 L571.8,62.0 L574.0,61.5 L576.1,61.0 L578.2,60.5 L580.3,60.0 L582.4,59.5 L584.5,59.0 L586.6,58.6 L588.7,58.1 L590.8,57.6 L592.9,57.1 L595.0,56.7 L597.1,56.2 L599.3,55.7 L601.4,55.3 L603.5,54.8 L605.6,54.4 L607.7,53.9 L609.8,53.5 L611.9,53.0 L614.0,52.6 L616.1,52.2 L618.2,51.7 L620.3,51.3 L622.4,50.9 L624.6,50.4 L626.7,50.0 L628.8,49.6 L630.9,49.2 L633.0,48.7 L635.1,48.3 L637.2,47.9 L639.3,47.5 L641.4,47.1 L643.5,46.7 L645.6,46.3 L647.7,45.9 L649.9,45.5 L652.0,45.1 L654.1,44.7 L656.2,44.3 L658.3,43.9 L660.4,43.5 L662.5,43.1 L664.6,42.7 L666.7,42.4 L668.8,42.0 L670.9,41.6 L673.0,41.2" fill="none" stroke="#1767b9" stroke-width="3.3" stroke-dasharray="14 14.6" stroke-dashoffset="-9.19"/>
<path d="M82.7,502.9 L82.7,502.9 L82.7,502.9 L82.7,502.9 L82.7,502.9 L82.7,502.9 L82.7,502.9 L82.7,502.9 L82.7,502.9 L82.7,502.9 L82.7,502.9 L82.7,502.9 L82.7,502.9 L82.7,502.9 L82.7,502.9 L82.7,502.9 L82.7,502.9 L82.7,502.9 L82.7,502.9 L82.7,502.9 L82.7,502.9 L82.7,502.9 L82.7,502.9 L82.7,502.9 L82.7,502.9 L82.7,502.9 L82.7,502.9 L82.7,502.9 L82.7,502.9 L82.7,502.9 L82.7,502.9 L82.7,502.9 L82.7,502.9 L82.7,502.9 L82.7,502.9 L82.7,502.9 L82.7,502.9 L82.7,502.9 L82.7,502.9 L82.7,502.9 L82.7,502.9 L82.7,502.9 L82.7,502.9 L82.7,502.9 L82.7,502.9 L82.7,502.9 L82.7,502.9 L82.7,502.9 L82.7,502.9 L82.7,502.9 L82.7,502.9 L82.7,502.9 L82.7,502.9 L82.7,502.9 L82.7,502.9 L82.7,502.9 L82.7,502.9 L82.7,502.9 L82.7,502.9 L82.7,502.9 L82.7,502.9 L82.7,502.9 L82.7,502.9 L82.8,502.9 L82.8,502.9 L82.8,502.9 L82.8,502.9 L82.8,502.9 L82.8,502.9 L82.8,502.9 L82.8,502.9 L82.8,502.9 L82.8,502.9 L82.8,502.9 L82.8,502.9 L82.8,502.9 L82.8,502.9 L82.8,502.9 L82.8,502.9 L82.8,502.9 L82.8,502.9 L82.8,502.9 L82.8,502.9 L82.8,502.9 L82.8,502.9 L82.8,502.9 L82.8,502.9 L82.8,502.9 L82.8,502.9 L82.8,502.9 L82.8,502.9 L82.8,502.9 L82.8,502.9 L82.8,502.9 L82.8,502.9 L82.8,502.9 L82.8,502.9 L82.8,502.9 L82.8,502.9 L82.8,502.9 L82.8,502.9 L82.8,502.9 L82.9,502.9 L82.9,502.9 L82.9,502.9 L82.9,502.9 L82.9,502.9 L82.9,502.9 L82.9,502.9 L82.9,502.9 L82.9,502.9 L82.9,502.9 L82.9,502.9 L82.9,502.9 L82.9,502.9 L82.9,502.9 L82.9,502.9 L82.9,502.9 L82.9,502.9 L83.0,502.9 L83.0,502.9 L83.0,502.9 L83.0,502.9 L83.0,502.9 L83.0,502.9 L83.0,502.9 L83.0,502.9 L83.0,502.9 L83.0,502.9 L83.0,502.9 L83.0,502.9 L83.1,502.9 L83.1,502.9 L83.1,502.9 L83.1,502.9 L83.1,502.9 L83.1,502.9 L83.1,502.9 L83.1,502.9 L83.1,502.9 L83.2,502.9 L83.2,502.9 L83.2,502.9 L83.2,502.9 L83.2,502.9 L83.2,502.9 L83.2,502.9 L83.3,502.9 L83.3,502.9 L83.3,502.9 L83.3,502.9 L83.3,502.9 L83.3,502.9 L83.4,502.9 L83.4,502.9 L83.4,502.9 L83.4,502.9 L83.4,502.9 L83.5,502.9 L83.5,502.9 L83.5,502.9 L83.5,502.9 L83.6,502.9 L83.6,502.9 L83.6,502.9 L83.6,502.9 L83.7,502.9 L83.7,502.9 L83.7,502.9 L83.7,502.9 L83.8,502.9 L83.8,502.9 L83.8,502.9 L83.9,502.9 L83.9,502.9 L83.9,502.9 L84.0,502.9 L84.0,502.9 L84.0,502.9 L84.1,502.9 L84.1,502.9 L84.2,502.9 L84.2,502.9 L84.2,502.9 L84.3,502.9 L84.3,502.9 L84.4,502.9 L84.4,502.9 L84.5,502.9 L84.5,502.9 L84.6,502.9 L84.6,502.9 L84.7,502.9 L84.8,502.9 L84.8,502.9 L84.9,502.9 L84.9,502.9 L85.0,502.9 L85.1,502.9 L85.1,502.9 L85.2,502.9 L85.3,502.9 L85.4,502.9 L85.4,502.9 L85.5,502.9 L85.6,502.9 L85.7,502.9 L85.8,502.9 L85.9,502.9 L85.9,502.9 L86.0,502.9 L86.1,502.9 L86.2,502.9 L86.3,502.9 L86.4,502.9 L86.6,502.9 L86.7,502.9 L86.8,502.9 L86.9,502.9 L87.0,502.9 L87.1,502.9 L87.3,502.9 L87.4,502.9 L87.5,502.9 L87.7,502.9 L87.8,502.9 L88.0,502.9 L88.1,502.9 L88.3,502.9 L88.4,502.9 L88.6,502.9 L88.8,502.9 L89.0,502.9 L89.1,502.9 L89.3,502.9 L89.5,502.9 L89.7,502.9 L89.9,502.9 L90.1,502.9 L90.3,502.9 L90.6,502.9 L90.8,502.9 L91.0,502.9 L91.3,502.9 L91.5,502.9 L91.8,502.9 L92.0,502.9 L92.3,502.9 L92.6,502.9 L92.8,502.9 L93.1,502.9 L93.4,502.9 L93.8,502.9 L94.1,502.9 L94.4,502.9 L94.7,502.9 L95.1,502.9 L95.4,502.9 L95.8,502.9 L96.2,502.9 L96.6,502.9 L97.0,502.9 L97.4,502.9 L97.8,502.9 L98.3,502.9 L98.7,502.9 L99.2,502.9 L99.6,502.9 L100.1,502.9 L100.6,502.9 L101.2,502.9 L101.7,502.9 L102.2,502.9 L102.8,502.9 L103.4,502.9 L104.0,502.9 L104.6,502.9 L105.2,502.9 L105.9,502.9 L106.6,502.9 L107.2,501.9 L108.0,497.6 L108.7,493.4 L109.4,489.1 L110.2,484.9 L111.0,480.6 L111.8,476.3 L112.7,472.1 L113.5,467.8 L114.4,463.6 L115.3,459.3 L116.3,455.0 L117.2,450.8 L118.2,446.5 L119.3,442.3 L120.3,438.0 L121.4,433.8 L122.5,429.5 L123.7,425.2 L124.9,421.0 L127.0,413.7 L129.1,406.7 L131.2,400.1 L133.3,393.7 L135.4,387.6 L137.5,381.8 L139.6,376.1 L141.7,370.7 L143.8,365.4 L146.0,360.4 L148.1,355.5 L150.2,350.7 L152.3,346.1 L154.4,341.7 L156.5,337.3 L158.6,333.1 L160.7,329.0 L162.8,325.0 L164.9,321.1 L167.0,317.4 L169.1,313.7 L171.3,310.1 L173.4,306.5 L175.5,303.1 L177.6,299.7 L179.7,296.5 L181.8,293.2 L183.9,290.1 L186.0,287.0 L188.1,284.0 L190.2,281.0 L192.3,278.1 L194.4,275.3 L196.6,272.5 L198.7,269.7 L200.8,267.1 L202.9,264.4 L205.0,261.8 L207.1,259.3 L209.2,256.7 L211.3,254.3 L213.4,251.8 L215.5,249.4 L217.6,247.1 L219.7,244.8 L221.9,242.5 L224.0,240.2 L226.1,238.0 L228.2,235.8 L230.3,233.7 L232.4,231.6 L234.5,229.5 L236.6,227.4 L238.7,225.4 L240.8,223.4 L242.9,221.4 L245.0,219.4 L247.2,217.5 L249.3,215.6 L251.4,213.7 L253.5,211.9 L255.6,210.0 L257.7,208.2 L259.8,206.4 L261.9,204.7 L264.0,202.9 L266.1,201.2 L268.2,199.5 L270.3,197.8 L272.5,196.1 L274.6,194.5 L276.7,192.8 L278.8,191.2 L280.9,189.6 L283.0,188.0 L285.1,186.5 L287.2,184.9 L289.3,183.4 L291.4,181.9 L293.5,180.4 L295.6,178.9 L297.8,177.4 L299.9,176.0 L302.0,174.5 L304.1,173.1 L306.2,171.7 L308.3,170.3 L310.4,168.9 L312.5,167.5 L314.6,166.1 L316.7,164.8 L318.8,163.4 L320.9,162.1 L323.1,160.8 L325.2,159.5 L327.3,158.2 L329.4,156.9 L331.5,155.6 L333.6,154.4 L335.7,153.1 L337.8,151.9 L339.9,150.6 L342.0,149.4 L344.1,148.2 L346.2,147.0 L348.4,145.8 L350.5,144.6 L352.6,143.5 L354.7,142.3 L356.8,141.1 L358.9,140.0 L361.0,138.9 L363.1,137.7 L365.2,136.6 L367.3,135.5 L369.4,134.4 L371.5,133.3 L373.7,132.2 L375.8,131.1 L377.9,130.1 L380.0,129.0 L382.1,128.0 L384.2,126.9 L386.3,125.9 L388.4,124.8 L390.5,123.8 L392.6,122.8 L394.7,121.8 L396.9,120.8 L399.0,119.8 L401.1,118.8 L403.2,117.8 L405.3,116.8 L407.4,115.8 L409.5,114.9 L411.6,113.9 L413.7,112.9 L415.8,112.0 L417.9,111.0 L420.0,110.1 L422.2,109.2 L424.3,108.3 L426.4,107.3 L428.5,106.4 L430.6,105.5 L432.7,104.6 L434.8,103.7 L436.9,102.8 L439.0,101.9 L441.1,101.0 L443.2,100.2 L445.3,99.3 L447.5,98.4 L449.6,97.6 L451.7,96.7 L453.8,95.9 L455.9,95.0 L458.0,94.2 L460.1,93.3 L462.2,92.5 L464.3,91.7 L466.4,90.8 L468.5,90.0 L470.6,89.2 L472.8,88.4 L474.9,87.6 L477.0,86.8 L479.1,86.0 L481.2,85.2 L483.3,84.4 L485.4,83.6 L487.5,82.9 L489.6,82.1 L491.7,81.3 L493.8,80.5 L495.9,79.8 L498.1,79.0 L500.2,78.3 L502.3,77.5 L504.4,76.7 L506.5,76.0 L508.6,75.3 L510.7,74.5 L512.8,73.8 L514.9,73.1 L517.0,72.3 L519.1,71.6 L521.2,70.9 L523.4,70.2 L525.5,69.5 L527.6,68.7 L529.7,68.0 L531.8,67.3 L533.9,66.6 L536.0,65.9 L538.1,65.2 L540.2,64.6 L542.3,63.9 L544.4,63.2 L546.5,62.5 L548.7,61.8 L550.8,61.1 L552.9,60.5 L555.0,59.8 L557.1,59.1 L559.2,58.5 L561.3,57.8 L563.4,57.2 L565.5,56.5 L567.6,55.9 L569.7,55.2 L571.8,54.6 L574.0,53.9 L576.1,53.3 L578.2,52.6 L580.3,52.0 L582.4,51.4 L584.5,50.7 L586.6,50.1 L588.7,49.5 L590.8,48.9 L592.9,48.3 L595.0,47.6 L597.1,47.0 L599.3,46.4 L601.4,45.8 L603.5,45.2 L605.6,44.6 L607.7,44.0 L609.8,43.4 L611.9,42.8 L614.0,42.2 L616.1,41.6 L618.2,41.0 L620.3,40.4 L622.4,39.8 L624.6,39.3 L626.7,38.7 L628.8,38.1 L630.9,37.5 L633.0,37.0 L635.1,36.4 L637.2,35.8 L639.3,35.2 L641.4,34.7 L643.5,34.1 L645.6,33.6 L647.7,33.0 L649.9,32.4 L652.0,31.9 L654.1,31.3 L656.2,30.8 L658.3,30.2 L660.4,29.7 L662.5,29.1 L664.6,28.6 L666.7,28.1 L668.8,27.5 L670.9,27.0 L673.0,26.4" fill="none" stroke="#1767b9" stroke-width="3.3" stroke-dasharray="3.2 4.05"/>
<polygon points="167.04,333.96 168.48,337.53 172.58,337.69 169.37,340.06 170.46,343.73 167.04,341.63 163.61,343.73 164.71,340.06 161.49,337.69 165.60,337.53" fill="#000"/>
<polygon points="251.37,217.73 252.81,221.29 256.92,221.46 253.70,223.83 254.80,227.50 251.37,225.40 247.94,227.50 249.04,223.83 245.82,221.46 249.93,221.29" fill="#000"/>
<polygon points="335.71,84.44 337.15,88.01 341.25,88.17 338.04,90.54 339.14,94.21 335.71,92.11 332.28,94.21 333.38,90.54 330.16,88.17 334.27,88.01" fill="#000"/>
<polygon points="420.04,84.63 421.48,88.19 425.59,88.36 422.37,90.73 423.47,94.39 420.04,92.29 416.61,94.39 417.71,90.73 414.50,88.36 418.60,88.19" fill="#000"/>
<polygon points="504.38,83.70 505.82,87.26 509.93,87.43 506.71,89.80 507.81,93.47 504.38,91.37 500.95,93.47 502.05,89.80 498.83,87.43 502.94,87.26" fill="#000"/>
<polygon points="588.71,83.70 590.15,87.26 594.26,87.43 591.04,89.80 592.14,93.47 588.71,91.37 585.29,93.47 586.38,89.80 583.17,87.43 587.27,87.26" fill="#000"/>
</g>
<text transform="translate(75.4,511.65) scale(1.075,1)" text-anchor="end" class="ts" font-size="16.3" fill="#262626">0</text>
<text transform="translate(75.4,418.96) scale(1.075,1)" text-anchor="end" class="ts" font-size="16.3" fill="#262626">50</text>
<text transform="translate(75.4,326.27) scale(1.075,1)" text-anchor="end" class="ts" font-size="16.3" fill="#262626">100</text>
<text transform="translate(75.4,233.58) scale(1.075,1)" text-anchor="end" class="ts" font-size="16.3" fill="#262626">150</text>
<text transform="translate(75.4,140.89) scale(1.075,1)" text-anchor="end" class="ts" font-size="16.3" fill="#262626">200</text>
<text transform="translate(75.4,48.20) scale(1.075,1)" text-anchor="end" class="ts" font-size="16.3" fill="#262626">250</text>
<text transform="translate(82.70,527.6) scale(1.075,1)" text-anchor="middle" class="ts" font-size="16.3" fill="#262626">0</text>
<text transform="translate(167.04,527.6) scale(1.075,1)" text-anchor="middle" class="ts" font-size="16.3" fill="#262626">10</text>
<text transform="translate(251.37,527.6) scale(1.075,1)" text-anchor="middle" class="ts" font-size="16.3" fill="#262626">20</text>
<text transform="translate(335.71,527.6) scale(1.075,1)" text-anchor="middle" class="ts" font-size="16.3" fill="#262626">30</text>
<text transform="translate(420.04,527.6) scale(1.075,1)" text-anchor="middle" class="ts" font-size="16.3" fill="#262626">40</text>
<text transform="translate(504.38,527.6) scale(1.075,1)" text-anchor="middle" class="ts" font-size="16.3" fill="#262626">50</text>
<text transform="translate(588.71,527.6) scale(1.075,1)" text-anchor="middle" class="ts" font-size="16.3" fill="#262626">60</text>
<text transform="translate(673.05,527.6) scale(1.075,1)" text-anchor="middle" class="ts" font-size="16.3" fill="#262626">70</text>
<text transform="translate(22.6,267.8) scale(1.0,1) rotate(-90)" text-anchor="middle" class="tb" font-size="26" fill="#000">q<tspan font-size="17" dy="4">t</tspan><tspan dy="-4"> (mg/g)</tspan></text>
<ellipse cx='111.9' cy='632' rx='11.1' ry='10' fill='#000'/>
<text transform="translate(137.9,639.30) scale(1.052,1)" class="tr" font-size="30.3" fill="#000">50 mg/L</text>
<rect x='99.9' y='655.9' width='22.2' height='19.6' fill='#000'/>
<text transform="translate(137.9,674.40) scale(1.052,1)" class="tr" font-size="30.3" fill="#000">100 mg/L</text>
<g transform='translate(111.4,699.9) scale(1.25,1)'><polygon points='0,-12.95 3.74,-6.48 11.21,-6.48 7.48,0 11.21,6.48 3.74,6.48 0,12.95 -3.74,6.48 -11.21,6.48 -7.48,0 -11.21,-6.48 -3.74,-6.48' fill='#000'/></g>
<text transform="translate(137.9,709.90) scale(1.052,1)" class="tr" font-size="30.3" fill="#000">150 mg/L</text>
<polygon points='111.8,721.9 122.8,733.9 111.8,745.9 100.8,733.9' fill='#000'/>
<text transform="translate(137.9,744.50) scale(1.052,1)" class="tr" font-size="30.3" fill="#000">200 mg/L</text>
<polygon points="112.20,753.00 115.62,763.85 126.68,763.85 117.73,770.55 121.15,781.40 112.20,774.70 103.25,781.40 106.67,770.55 97.72,763.85 108.78,763.85" fill="#000"/>
<text transform="translate(137.9,779.00) scale(1.052,1)" class="tr" font-size="30.3" fill="#000">250 mg/L</text>
<path d="M322.9,666.70 H447.2" stroke="#4472c4" stroke-width="3.4"/>
<text transform="translate(459.3,674.40) scale(1.052,1)" class="tr" font-size="30.3" fill="#000">PFO</text>
<path d="M325.2,701.40 H444.2" stroke="#4472c4" stroke-width="3.4" stroke-dasharray="31.7 12.1"/>
<text transform="translate(459.3,709.50) scale(1.052,1)" class="tr" font-size="30.3" fill="#000">PSO</text>
<path d="M322.9,735.50 H445.4" stroke="#4472c4" stroke-width="3.4" stroke-dasharray="11.8 3.9"/>
<text transform="translate(459.3,744.70) scale(1.052,1)" class="tr" font-size="30.3" fill="#000">Elovich</text>
</svg></body></html>
